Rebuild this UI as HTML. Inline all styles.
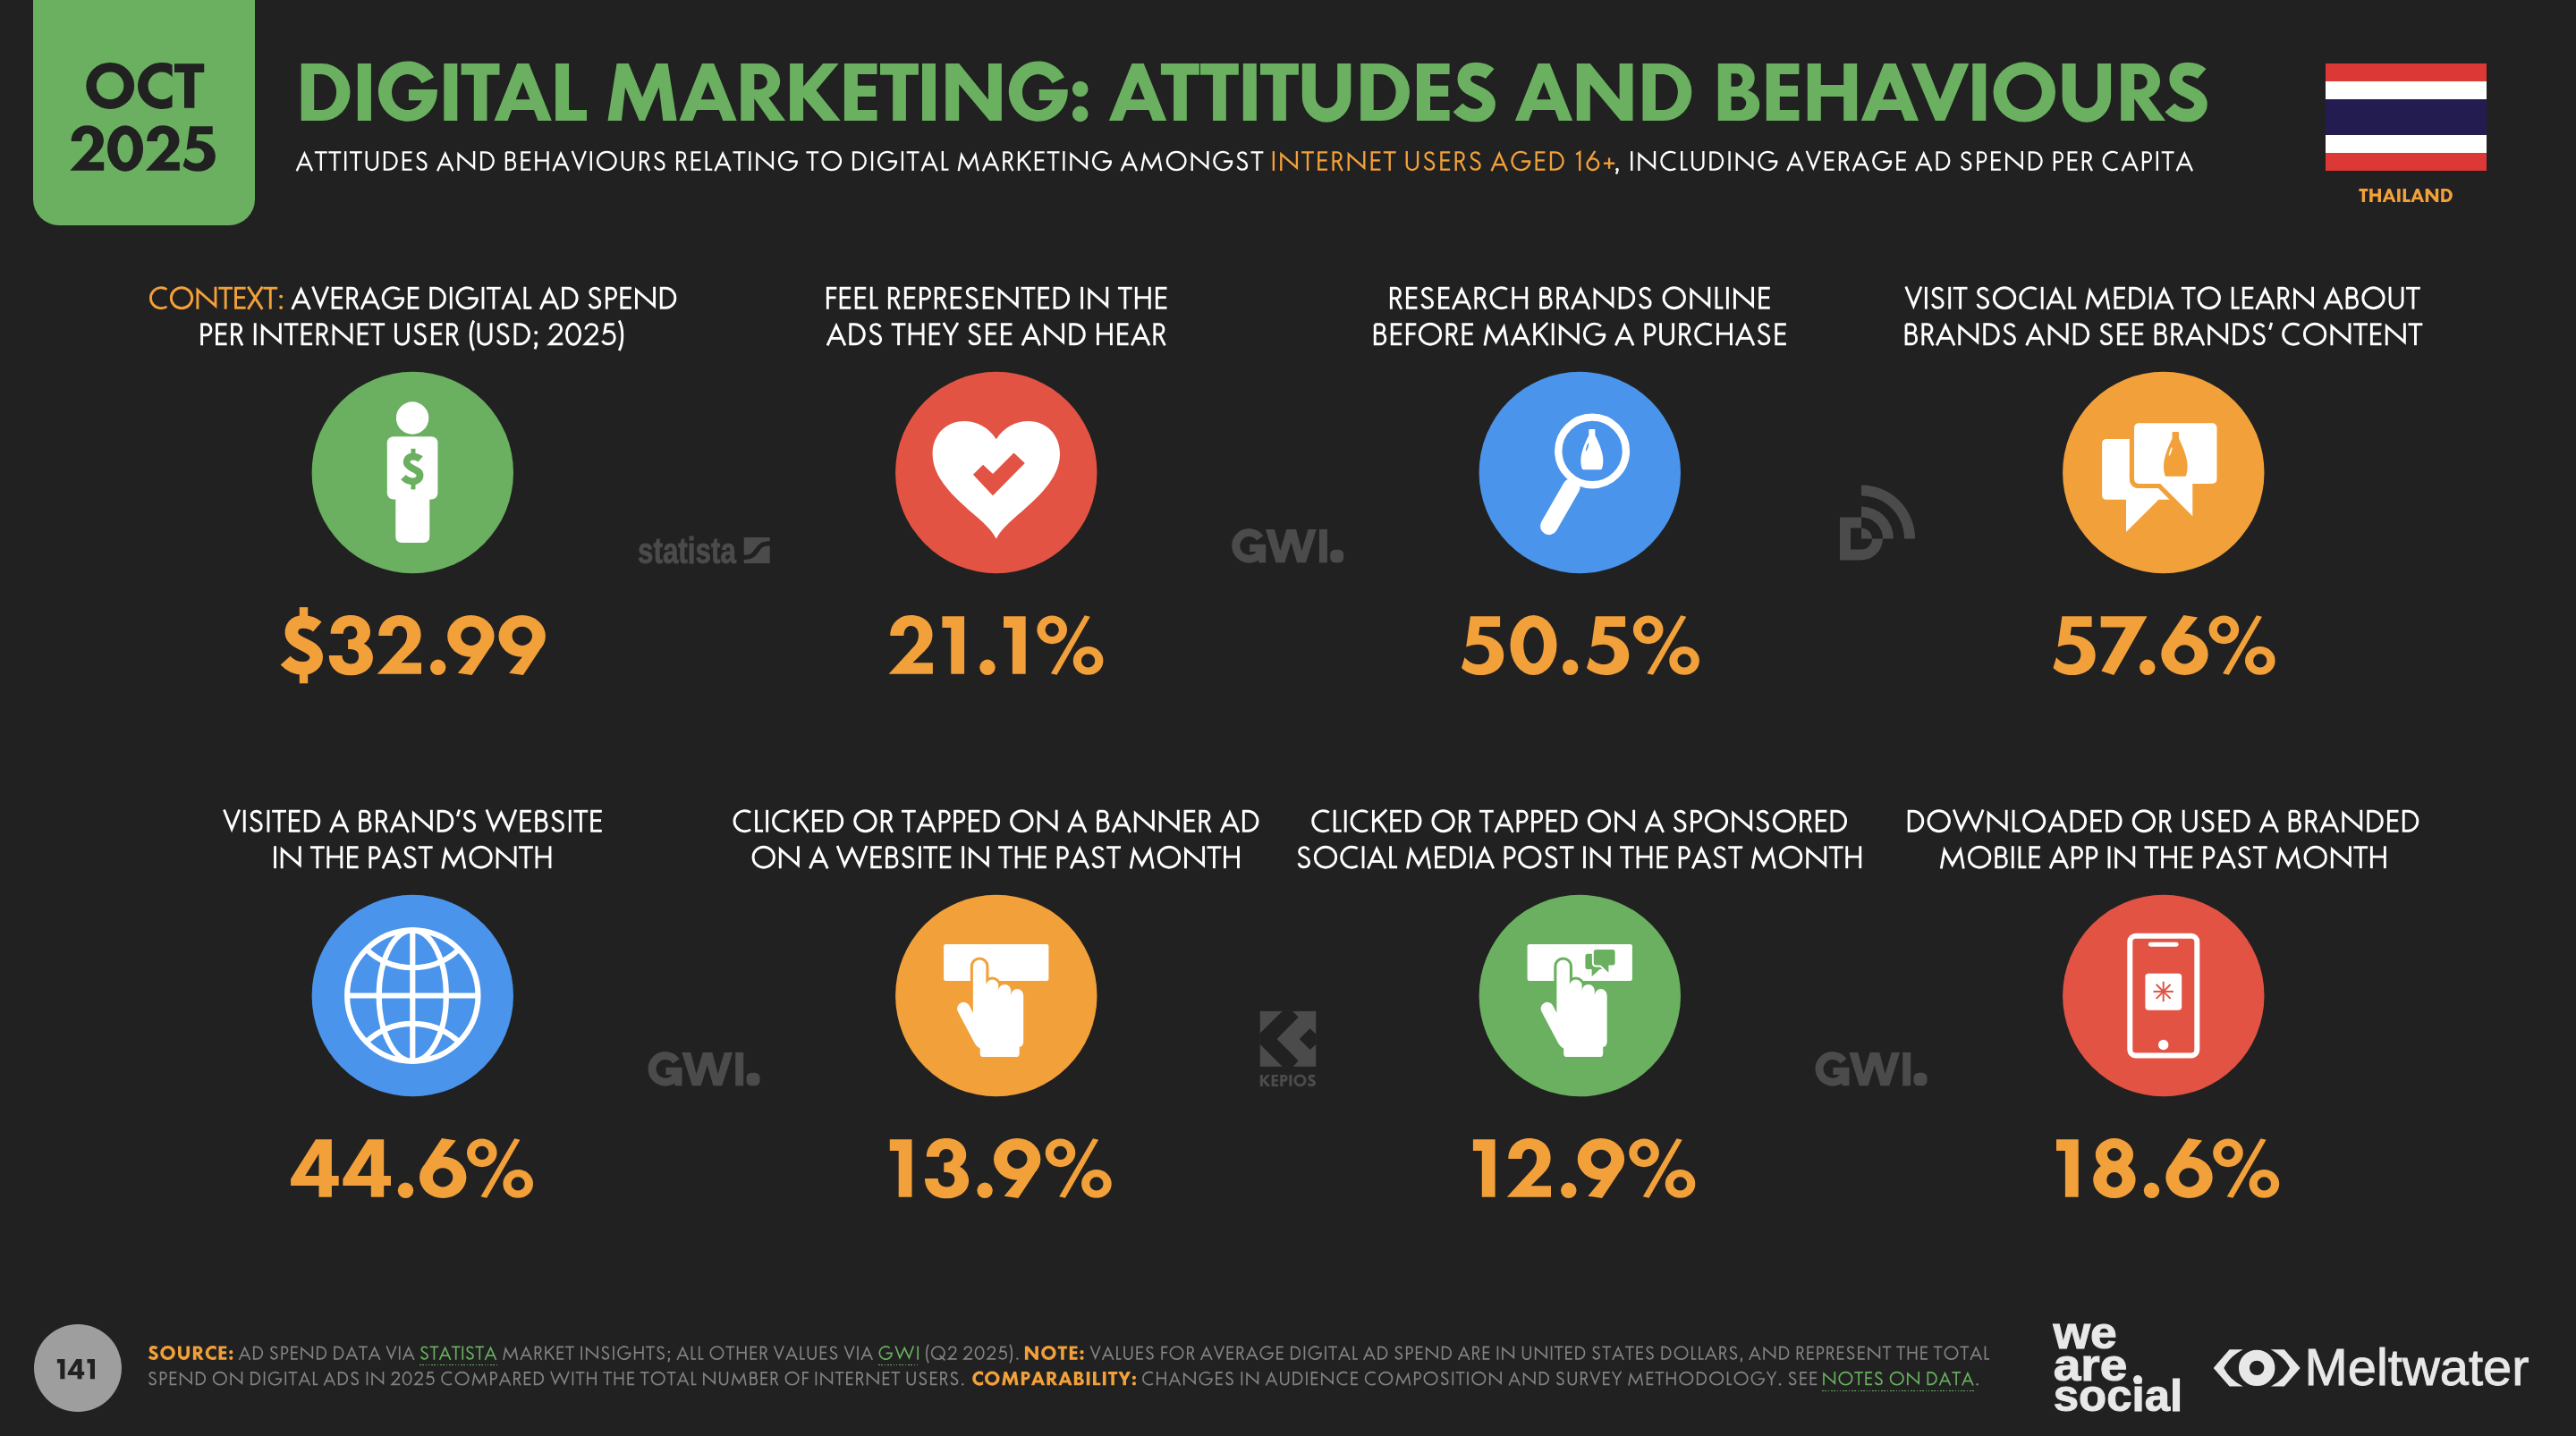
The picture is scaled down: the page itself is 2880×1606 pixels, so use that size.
<!DOCTYPE html><html><head><meta charset="utf-8"><title>Digital Marketing: Attitudes and Behaviours</title><style>
html,body{margin:0;padding:0;background:#212121;overflow:hidden;width:2880px;height:1606px;font-family:"Liberation Sans",sans-serif;}
body{width:2880px;height:1606px;position:relative;overflow:hidden;font-family:"Liberation Sans",sans-serif;}
.t{position:absolute;white-space:nowrap;line-height:1;transform-origin:50% 50%;}
.abs{position:absolute;}
svg{position:absolute;overflow:visible;}

</style></head><body>
<div class="abs" style="left:37px;top:0;width:248px;height:251.5px;background:#6ab060;border-radius:0 0 29px 29px"></div>
<div class="abs" style="left:2600px;top:71px;width:180px;height:119.5px;background:#dc3835"><div class="abs" style="left:0;top:20px;width:180px;height:79.5px;background:#fff"></div><div class="abs" style="left:0;top:40px;width:180px;height:39.5px;background:#221c50"></div></div>
<div class="abs" style="left:37.5px;top:1480.7px;width:98.3px;height:98.3px;border-radius:50%;background:#9e9e9e"></div>
<svg style="left:348px;top:415px" width="227" height="227" viewBox="-113.300 -113.500 227 227"><circle r="112.7" fill="#6ab060"/><circle cx="-0.2" cy="-61" r="18.2" fill="#ffffff"/><rect x="-28.5" y="-40.2" width="56.6" height="70.2" rx="7" fill="#ffffff"/><path d="M-19,25 H19 V71.6 q0,7 -7,7 H-12 q-7,0 -7,-7 Z" fill="#ffffff"/><g transform="translate(-12.4,13.2) scale(0.535)"><path d="M39.7,-52.8 C35.5,-56.5 30,-58.2 23.5,-58.2 C14,-58.2 10.8,-52 10.8,-46.5 C10.8,-40.5 15,-37.5 23.5,-33.3 C33,-28.6 38.6,-25.5 38.6,-19 C38.6,-11.5 32,-6.3 23.5,-6.3 C15,-6.3 8.5,-10 4,-15" fill="none" stroke="#6ab060" stroke-width="14.6"/><rect x="19.7" y="-74.6" width="9.4" height="14" fill="#6ab060"/><rect x="19.7" y="-4" width="9.4" height="14.6" fill="#6ab060"/></g></svg>
<svg style="left:1000px;top:415px" width="227" height="227" viewBox="-113.800 -113.500 227 227"><circle r="112.7" fill="#e25344"/><path d="M0,-37.3 C-9,-51 -22,-57.4 -36,-57.4 C-56,-57.4 -71.2,-42 -71.2,-21 C-71.2,6 -48,27 -20,51 C-10,60 -4,66.5 0,74 C4,66.5 10,60 20,51 C48,27 71.2,6 71.2,-21 C71.2,-42 56,-57.4 36,-57.4 C22,-57.4 9,-51 0,-37.3 Z" fill="#ffffff"/><path d="M-25.9,2.2 L-14.7,-8.7 L-3.8,1.4 L19.7,-22.1 L32,-10.5 L-3.8,25.7 Z" fill="#e25344"/></svg>
<svg style="left:1653px;top:415px" width="227" height="227" viewBox="-113.300 -113.500 227 227"><circle r="112.7" fill="#4a94eb"/><circle cx="13.8" cy="-24.1" r="37.8" fill="none" stroke="#ffffff" stroke-width="8.4"/><line x1="-9.38" y1="16.21" x2="-34.5" y2="59.9" stroke="#ffffff" stroke-width="19.5" stroke-linecap="round"/><path d="M10.05,-47.40 q0,-1 1,-1 h5.00 q1,0 1,1 V-41.80 C18.55,-38.18 26.05,-24.90 26.05,-13.60 C26.05,-9.08 25.40,-6.82 24.80,-4.70 q-0.3,1.5 -2,1.5 H4.30 q-1.7,0 -2,-1.5 C1.70,-6.82 1.05,-9.08 1.05,-13.60 C1.05,-24.90 8.55,-38.18 10.05,-41.80 Z" fill="#ffffff"/><ellipse cx="8.30" cy="-28.51" rx="0.88" ry="4.52" transform="rotate(18 8.30 -28.51)" fill="#4a94eb"/></svg>
<svg style="left:2305px;top:415px" width="227" height="227" viewBox="-113.800 -113.500 227 227"><circle r="112.7" fill="#f2a03a"/><path d="M-63.7,-37.4 H10 V30.3 H-5.4 L-41.8,66.6 V30.3 H-63.7 q-5,0 -5,-5 V-32.4 q0,-5 5,-5 Z" fill="#ffffff"/><path d="M-27.2,-55.3 H54.1 q5.6,0 5.6,5.6 V6.8 q0,5.6 -5.6,5.6 H32.5 V48.8 L-3.6,12.4 H-27.2 q-5.6,0 -5.6,-5.6 V-49.7 q0,-5.6 5.6,-5.6 Z" fill="#ffffff" stroke="#f2a03a" stroke-width="10.4" stroke-linejoin="round" paint-order="stroke"/><path d="M9.78,-44.50 q0,-1 1,-1 h5.45 q1,0 1,1 V-38.23 C18.72,-34.25 26.80,-19.60 26.80,-7.15 C26.80,-2.17 26.07,0.32 25.47,2.80 q-0.3,1.5 -2,1.5 H3.53 q-1.7,0 -2,-1.5 C0.93,0.32 0.20,-2.17 0.20,-7.15 C0.20,-19.60 8.28,-34.25 9.78,-38.23 Z" fill="#f2a03a"/><ellipse cx="7.91" cy="-23.59" rx="0.93" ry="4.98" transform="rotate(18 7.91 -23.59)" fill="#ffffff"/></svg>
<svg style="left:348px;top:1000px" width="227" height="227" viewBox="-113.300 -113.550 227 227"><circle r="112.7" fill="#4a94eb"/><g fill="none" stroke="#ffffff" stroke-width="6.1"><circle r="73.2"/><line x1="0" y1="-73.2" x2="0" y2="73.2"/><line x1="-73.2" y1="0" x2="73.2" y2="0"/><ellipse rx="37.6" ry="73.2"/><path d="M-52,-52 A75.7 75.7 0 0 0 52,-52"/><path d="M-52,52 A75.7 75.7 0 0 1 52,52"/></g></svg>
<svg style="left:1000px;top:1000px" width="227" height="227" viewBox="-113.800 -113.550 227 227"><circle r="112.7" fill="#f2a03a"/><rect x="-58.7" y="-57.6" width="117.3" height="41.1" rx="2.4" fill="#ffffff"/><path d="M-25.9,-32.8 A7.25,7.25 0 0 1 -11.4,-32.8 V-11.1 A6.9,6.9 0 0 1 2.4,-11.1 V-5.5 A7.05,7.05 0 0 1 16.5,-5.5 V-0.5 A6.95,6.95 0 0 1 30.4,-0.5 V51.3 C30.4,55 28.5,57.4 25.9,57.4 V64.6 q0,3.9 -3.9,3.9 H-14.2 q-3.9,0 -3.9,-3.9 V59 C-21,57.5 -23,55.5 -24.5,52.5 L-42.9,17.8 A7.2,7.2 0 0 1 -30.1,11.2 L-25.9,19.3 Z" fill="#ffffff" stroke="#f2a03a" stroke-width="6.2" stroke-linejoin="round" paint-order="stroke"/></svg>
<svg style="left:1653px;top:1000px" width="227" height="227" viewBox="-113.300 -113.550 227 227"><circle r="112.7" fill="#6ab060"/><rect x="-58.7" y="-57.6" width="117.3" height="41.1" rx="2.4" fill="#ffffff"/><path d="M8.9,-46.9 H24.6 V-29.6 H22.2 L13.3,-21.2 V-29.6 H8.9 q-2.8,0 -2.8,-2.8 V-44.1 q0,-2.8 2.8,-2.8 Z" fill="#6ab060"/><path d="M18.3,-51.6 H36.5 q2.8,0 2.8,2.8 V-36.8 q0,2.8 -2.8,2.8 H32.1 V-25.9 L23.3,-34 H18.3 q-2.8,0 -2.8,-2.8 V-48.8 q0,-2.8 2.8,-2.8 Z" fill="#6ab060" stroke="#ffffff" stroke-width="3.8" stroke-linejoin="round" paint-order="stroke"/><path d="M-25.9,-32.8 A7.25,7.25 0 0 1 -11.4,-32.8 V-11.1 A6.9,6.9 0 0 1 2.4,-11.1 V-5.5 A7.05,7.05 0 0 1 16.5,-5.5 V-0.5 A6.95,6.95 0 0 1 30.4,-0.5 V51.3 C30.4,55 28.5,57.4 25.9,57.4 V64.6 q0,3.9 -3.9,3.9 H-14.2 q-3.9,0 -3.9,-3.9 V59 C-21,57.5 -23,55.5 -24.5,52.5 L-42.9,17.8 A7.2,7.2 0 0 1 -30.1,11.2 L-25.9,19.3 Z" fill="#ffffff" stroke="#6ab060" stroke-width="6.2" stroke-linejoin="round" paint-order="stroke"/></svg>
<svg style="left:2305px;top:1000px" width="227" height="227" viewBox="-113.800 -113.550 227 227"><circle r="112.7" fill="#e25344"/><rect x="-37.5" y="-66.8" width="75" height="133.7" rx="6.5" fill="none" stroke="#ffffff" stroke-width="6"/><line x1="-14.5" y1="-57.3" x2="14.4" y2="-57.3" stroke="#ffffff" stroke-width="4.8" stroke-linecap="round"/><circle cx="-0.1" cy="55" r="5.7" fill="#ffffff"/><rect x="-20.4" y="-24.7" width="40.8" height="40.8" rx="3.7" fill="#ffffff"/><g stroke="#e25344" stroke-width="2"><line x1="0" y1="-11.2" x2="0" y2="11.2" transform="translate(-0.1,-4.6) rotate(0)"/><line x1="0" y1="-11.2" x2="0" y2="11.2" transform="translate(-0.1,-4.6) rotate(45)"/><line x1="0" y1="-11.2" x2="0" y2="11.2" transform="translate(-0.1,-4.6) rotate(90)"/><line x1="0" y1="-11.2" x2="0" y2="11.2" transform="translate(-0.1,-4.6) rotate(135)"/></g></svg>
<div id="txt" style="position:absolute;left:0;top:0;width:2880px;height:1606px;overflow:hidden;will-change:transform">
<svg style="left:309px;top:671px" width="338" height="100" viewBox="309 671 338 100"><g transform="translate(315.1,753.7)"><path d="M39.7,-52.8 C35.5,-56.5 30,-58.2 23.5,-58.2 C14,-58.2 10.8,-52 10.8,-46.5 C10.8,-40.5 15,-37.5 23.5,-33.3 C33,-28.6 38.6,-25.5 38.6,-19 C38.6,-11.5 32,-6.3 23.5,-6.3 C15,-6.3 8.5,-10 4,-15" fill="none" stroke="#f2a03a" stroke-width="14.6"/><rect x="19.7" y="-74.6" width="9.4" height="14" fill="#f2a03a"/><rect x="19.7" y="-4" width="9.4" height="14.6" fill="#f2a03a"/></g><g transform="translate(367.6,753.7)"><path d="M2.1,-44.9 C2.1,-57 11,-65.6 24,-65.6 C37,-65.6 46.4,-58 46.4,-47 C46.4,-41 43.5,-36.6 39.2,-34 C45,-31 49.3,-25.5 49.3,-18.5 C49.3,-6.5 39,1.5 24.5,1.5 C10,1.5 0.2,-7 0.2,-20.8 H14.9 C14.9,-15 19,-11.3 24.6,-11.3 C30,-11.3 33.5,-14.8 33.5,-19.8 C33.5,-25.3 30,-27.8 21.5,-27.8 V-38.4 C28.5,-38.4 31.8,-41 31.8,-46 C31.8,-50.6 28.6,-53.8 24.1,-53.8 C19.5,-53.8 16.2,-50.2 16.2,-44.9 Z" fill="#f2a03a"/></g><g transform="translate(421.7,753.7)"><path d="M1.7,-42.7 C1.7,-56 11.5,-65.6 25,-65.6 C39,-65.6 48.9,-56.5 48.9,-44 C48.9,-36.5 45.5,-31 40.5,-26 L26.8,-12.4 H49.3 V0 H0 L28.5,-31 C31.8,-34.8 33.4,-38.5 33.4,-43.5 C33.4,-49.5 30,-53.7 25,-53.7 C20,-53.7 16.9,-49.5 16.9,-42.7 Z" fill="#f2a03a"/></g><g transform="translate(481.0,753.7)"><path d="M0.00,-7.40 A8.7,8.7 0 1 1 17.40,-7.40 A8.7,8.7 0 1 1 0.00,-7.40 Z " fill="#f2a03a"/></g><g transform="translate(500.2,753.7)"><path d="M0.00,-22.00 A26.2,23.3 0 1 1 52.40,-22.00 A26.2,23.3 0 1 1 0.00,-22.00 Z M14.90,-21.90 A11.2,10.6 0 1 0 37.30,-21.90 A11.2,10.6 0 1 0 14.90,-21.90 Z M25,-65.6 L40.8,-63.3 L24.5,-43.5 L14,-30 L3.9,-33.6 Z" fill="#f2a03a" transform="rotate(180 26.2 -32.15)"/></g><g transform="translate(557.5,753.7)"><path d="M0.00,-22.00 A26.2,23.3 0 1 1 52.40,-22.00 A26.2,23.3 0 1 1 0.00,-22.00 Z M14.90,-21.90 A11.2,10.6 0 1 0 37.30,-21.90 A11.2,10.6 0 1 0 14.90,-21.90 Z M25,-65.6 L40.8,-63.3 L24.5,-43.5 L14,-30 L3.9,-33.6 Z" fill="#f2a03a" transform="rotate(180 26.2 -32.15)"/></g></svg><svg style="left:987px;top:671px" width="262" height="100" viewBox="987 671 262 100"><g transform="translate(993.6,753.7)"><path d="M1.7,-42.7 C1.7,-56 11.5,-65.6 25,-65.6 C39,-65.6 48.9,-56.5 48.9,-44 C48.9,-36.5 45.5,-31 40.5,-26 L26.8,-12.4 H49.3 V0 H0 L28.5,-31 C31.8,-34.8 33.4,-38.5 33.4,-43.5 C33.4,-49.5 30,-53.7 25,-53.7 C20,-53.7 16.9,-49.5 16.9,-42.7 Z" fill="#f2a03a"/></g><g transform="translate(1053.4,753.7)"><path d="M0,-64.5 H24.7 V0 H9.9 V-51.7 H0 Z" fill="#f2a03a"/></g><g transform="translate(1095.3,753.7)"><path d="M0.00,-7.40 A8.7,8.7 0 1 1 17.40,-7.40 A8.7,8.7 0 1 1 0.00,-7.40 Z " fill="#f2a03a"/></g><g transform="translate(1122.0,753.7)"><path d="M0,-64.5 H24.7 V0 H9.9 V-51.7 H0 Z" fill="#f2a03a"/></g><g transform="translate(1159.4,753.7)"><path d="M0.00,-49.40 A16.8,15.9 0 1 1 33.60,-49.40 A16.8,15.9 0 1 1 0.00,-49.40 Z M9.15,-49.40 A7.65,7.6 0 1 0 24.45,-49.40 A7.65,7.6 0 1 0 9.15,-49.40 Z M40.40,-14.80 A16.8,15.9 0 1 1 74.00,-14.80 A16.8,15.9 0 1 1 40.40,-14.80 Z M49.55,-14.80 A7.65,7.6 0 1 0 64.85,-14.80 A7.65,7.6 0 1 0 49.55,-14.80 Z M53.3,-65.4 L59.4,-63.9 L22.2,1 L15.5,-0.4 Z" fill="#f2a03a"/></g></svg><svg style="left:1628px;top:671px" width="287" height="100" viewBox="1628 671 287 100"><g transform="translate(1634.0,753.7)"><path d="M9.9,-64.5 H43.1 V-52.8 H20.4 L19.2,-43.5 C36,-43.5 47.2,-34 47.2,-21 C47.2,-7 36,1.3 21,1.3 C12,1.3 5,-2 0,-6.8 L3.5,-18.5 C8,-13.5 13,-10.6 19,-10.6 C26,-10.6 30.9,-15 30.9,-22 C30.9,-29 26,-33 19,-33 C14,-33 9,-32 5.2,-30.1 Z" fill="#f2a03a"/></g><g transform="translate(1688.5,753.7)"><path d="M0.00,-32.20 A26,33.5 0 1 1 52.00,-32.20 A26,33.5 0 1 1 0.00,-32.20 Z M14.75,-32.10 A11.35,20.4 0 1 0 37.45,-32.10 A11.35,20.4 0 1 0 14.75,-32.10 Z " fill="#f2a03a"/></g><g transform="translate(1747.0,753.7)"><path d="M0.00,-7.40 A8.7,8.7 0 1 1 17.40,-7.40 A8.7,8.7 0 1 1 0.00,-7.40 Z " fill="#f2a03a"/></g><g transform="translate(1774.0,753.7)"><path d="M9.9,-64.5 H43.1 V-52.8 H20.4 L19.2,-43.5 C36,-43.5 47.2,-34 47.2,-21 C47.2,-7 36,1.3 21,1.3 C12,1.3 5,-2 0,-6.8 L3.5,-18.5 C8,-13.5 13,-10.6 19,-10.6 C26,-10.6 30.9,-15 30.9,-22 C30.9,-29 26,-33 19,-33 C14,-33 9,-32 5.2,-30.1 Z" fill="#f2a03a"/></g><g transform="translate(1825.9,753.7)"><path d="M0.00,-49.40 A16.8,15.9 0 1 1 33.60,-49.40 A16.8,15.9 0 1 1 0.00,-49.40 Z M9.15,-49.40 A7.65,7.6 0 1 0 24.45,-49.40 A7.65,7.6 0 1 0 9.15,-49.40 Z M40.40,-14.80 A16.8,15.9 0 1 1 74.00,-14.80 A16.8,15.9 0 1 1 40.40,-14.80 Z M49.55,-14.80 A7.65,7.6 0 1 0 64.85,-14.80 A7.65,7.6 0 1 0 49.55,-14.80 Z M53.3,-65.4 L59.4,-63.9 L22.2,1 L15.5,-0.4 Z" fill="#f2a03a"/></g></svg><svg style="left:2289px;top:671px" width="270" height="100" viewBox="2289 671 270 100"><g transform="translate(2295.5,753.7)"><path d="M9.9,-64.5 H43.1 V-52.8 H20.4 L19.2,-43.5 C36,-43.5 47.2,-34 47.2,-21 C47.2,-7 36,1.3 21,1.3 C12,1.3 5,-2 0,-6.8 L3.5,-18.5 C8,-13.5 13,-10.6 19,-10.6 C26,-10.6 30.9,-15 30.9,-22 C30.9,-29 26,-33 19,-33 C14,-33 9,-32 5.2,-30.1 Z" fill="#f2a03a"/></g><g transform="translate(2348.7,753.7)"><path d="M0,-64.5 H51.8 L14.6,1.3 L0.6,-3.3 L27.9,-52.3 H0 Z" fill="#f2a03a"/></g><g transform="translate(2392.1,753.7)"><path d="M0.00,-7.40 A8.7,8.7 0 1 1 17.40,-7.40 A8.7,8.7 0 1 1 0.00,-7.40 Z " fill="#f2a03a"/></g><g transform="translate(2416.3,753.7)"><path d="M0.00,-22.00 A26.2,23.3 0 1 1 52.40,-22.00 A26.2,23.3 0 1 1 0.00,-22.00 Z M14.90,-21.90 A11.2,10.6 0 1 0 37.30,-21.90 A11.2,10.6 0 1 0 14.90,-21.90 Z M25,-65.6 L40.8,-63.3 L24.5,-43.5 L14,-30 L3.9,-33.6 Z" fill="#f2a03a"/></g><g transform="translate(2469.6,753.7)"><path d="M0.00,-49.40 A16.8,15.9 0 1 1 33.60,-49.40 A16.8,15.9 0 1 1 0.00,-49.40 Z M9.15,-49.40 A7.65,7.6 0 1 0 24.45,-49.40 A7.65,7.6 0 1 0 9.15,-49.40 Z M40.40,-14.80 A16.8,15.9 0 1 1 74.00,-14.80 A16.8,15.9 0 1 1 40.40,-14.80 Z M49.55,-14.80 A7.65,7.6 0 1 0 64.85,-14.80 A7.65,7.6 0 1 0 49.55,-14.80 Z M53.3,-65.4 L59.4,-63.9 L22.2,1 L15.5,-0.4 Z" fill="#f2a03a"/></g></svg><svg style="left:319px;top:1256px" width="293" height="100" viewBox="319 1256 293 100"><g transform="translate(325.1,1338.7)"><path d="M27.9,-64.5 H45.8 V-23.7 H53.6 V-12.7 H45.8 V0 H31.4 V-12.7 H0 V-20.2 Z M31.4,-48.2 V-23.7 H16.1 Z" fill="#f2a03a" fill-rule="evenodd"/></g><g transform="translate(383.4,1338.7)"><path d="M27.9,-64.5 H45.8 V-23.7 H53.6 V-12.7 H45.8 V0 H31.4 V-12.7 H0 V-20.2 Z M31.4,-48.2 V-23.7 H16.1 Z" fill="#f2a03a" fill-rule="evenodd"/></g><g transform="translate(444.8,1338.7)"><path d="M0.00,-7.40 A8.7,8.7 0 1 1 17.40,-7.40 A8.7,8.7 0 1 1 0.00,-7.40 Z " fill="#f2a03a"/></g><g transform="translate(469.0,1338.7)"><path d="M0.00,-22.00 A26.2,23.3 0 1 1 52.40,-22.00 A26.2,23.3 0 1 1 0.00,-22.00 Z M14.90,-21.90 A11.2,10.6 0 1 0 37.30,-21.90 A11.2,10.6 0 1 0 14.90,-21.90 Z M25,-65.6 L40.8,-63.3 L24.5,-43.5 L14,-30 L3.9,-33.6 Z" fill="#f2a03a"/></g><g transform="translate(522.0,1338.7)"><path d="M0.00,-49.40 A16.8,15.9 0 1 1 33.60,-49.40 A16.8,15.9 0 1 1 0.00,-49.40 Z M9.15,-49.40 A7.65,7.6 0 1 0 24.45,-49.40 A7.65,7.6 0 1 0 9.15,-49.40 Z M40.40,-14.80 A16.8,15.9 0 1 1 74.00,-14.80 A16.8,15.9 0 1 1 40.40,-14.80 Z M49.55,-14.80 A7.65,7.6 0 1 0 64.85,-14.80 A7.65,7.6 0 1 0 49.55,-14.80 Z M53.3,-65.4 L59.4,-63.9 L22.2,1 L15.5,-0.4 Z" fill="#f2a03a"/></g></svg><svg style="left:988px;top:1256px" width="270" height="100" viewBox="988 1256 270 100"><g transform="translate(994.8,1338.7)"><path d="M0,-64.5 H24.7 V0 H9.9 V-51.7 H0 Z" fill="#f2a03a"/></g><g transform="translate(1033.8,1338.7)"><path d="M2.1,-44.9 C2.1,-57 11,-65.6 24,-65.6 C37,-65.6 46.4,-58 46.4,-47 C46.4,-41 43.5,-36.6 39.2,-34 C45,-31 49.3,-25.5 49.3,-18.5 C49.3,-6.5 39,1.5 24.5,1.5 C10,1.5 0.2,-7 0.2,-20.8 H14.9 C14.9,-15 19,-11.3 24.6,-11.3 C30,-11.3 33.5,-14.8 33.5,-19.8 C33.5,-25.3 30,-27.8 21.5,-27.8 V-38.4 C28.5,-38.4 31.8,-41 31.8,-46 C31.8,-50.6 28.6,-53.8 24.1,-53.8 C19.5,-53.8 16.2,-50.2 16.2,-44.9 Z" fill="#f2a03a"/></g><g transform="translate(1092.4,1338.7)"><path d="M0.00,-7.40 A8.7,8.7 0 1 1 17.40,-7.40 A8.7,8.7 0 1 1 0.00,-7.40 Z " fill="#f2a03a"/></g><g transform="translate(1111.0,1338.7)"><path d="M0.00,-22.00 A26.2,23.3 0 1 1 52.40,-22.00 A26.2,23.3 0 1 1 0.00,-22.00 Z M14.90,-21.90 A11.2,10.6 0 1 0 37.30,-21.90 A11.2,10.6 0 1 0 14.90,-21.90 Z M25,-65.6 L40.8,-63.3 L24.5,-43.5 L14,-30 L3.9,-33.6 Z" fill="#f2a03a" transform="rotate(180 26.2 -32.15)"/></g><g transform="translate(1168.7,1338.7)"><path d="M0.00,-49.40 A16.8,15.9 0 1 1 33.60,-49.40 A16.8,15.9 0 1 1 0.00,-49.40 Z M9.15,-49.40 A7.65,7.6 0 1 0 24.45,-49.40 A7.65,7.6 0 1 0 9.15,-49.40 Z M40.40,-14.80 A16.8,15.9 0 1 1 74.00,-14.80 A16.8,15.9 0 1 1 40.40,-14.80 Z M49.55,-14.80 A7.65,7.6 0 1 0 64.85,-14.80 A7.65,7.6 0 1 0 49.55,-14.80 Z M53.3,-65.4 L59.4,-63.9 L22.2,1 L15.5,-0.4 Z" fill="#f2a03a"/></g></svg><svg style="left:1640px;top:1256px" width="271" height="100" viewBox="1640 1256 271 100"><g transform="translate(1646.9,1338.7)"><path d="M0,-64.5 H24.7 V0 H9.9 V-51.7 H0 Z" fill="#f2a03a"/></g><g transform="translate(1684.7,1338.7)"><path d="M1.7,-42.7 C1.7,-56 11.5,-65.6 25,-65.6 C39,-65.6 48.9,-56.5 48.9,-44 C48.9,-36.5 45.5,-31 40.5,-26 L26.8,-12.4 H49.3 V0 H0 L28.5,-31 C31.8,-34.8 33.4,-38.5 33.4,-43.5 C33.4,-49.5 30,-53.7 25,-53.7 C20,-53.7 16.9,-49.5 16.9,-42.7 Z" fill="#f2a03a"/></g><g transform="translate(1745.1,1338.7)"><path d="M0.00,-7.40 A8.7,8.7 0 1 1 17.40,-7.40 A8.7,8.7 0 1 1 0.00,-7.40 Z " fill="#f2a03a"/></g><g transform="translate(1763.7,1338.7)"><path d="M0.00,-22.00 A26.2,23.3 0 1 1 52.40,-22.00 A26.2,23.3 0 1 1 0.00,-22.00 Z M14.90,-21.90 A11.2,10.6 0 1 0 37.30,-21.90 A11.2,10.6 0 1 0 14.90,-21.90 Z M25,-65.6 L40.8,-63.3 L24.5,-43.5 L14,-30 L3.9,-33.6 Z" fill="#f2a03a" transform="rotate(180 26.2 -32.15)"/></g><g transform="translate(1821.3,1338.7)"><path d="M0.00,-49.40 A16.8,15.9 0 1 1 33.60,-49.40 A16.8,15.9 0 1 1 0.00,-49.40 Z M9.15,-49.40 A7.65,7.6 0 1 0 24.45,-49.40 A7.65,7.6 0 1 0 9.15,-49.40 Z M40.40,-14.80 A16.8,15.9 0 1 1 74.00,-14.80 A16.8,15.9 0 1 1 40.40,-14.80 Z M49.55,-14.80 A7.65,7.6 0 1 0 64.85,-14.80 A7.65,7.6 0 1 0 49.55,-14.80 Z M53.3,-65.4 L59.4,-63.9 L22.2,1 L15.5,-0.4 Z" fill="#f2a03a"/></g></svg><svg style="left:2293px;top:1256px" width="271" height="100" viewBox="2293 1256 271 100"><g transform="translate(2299.0,1338.7)"><path d="M0,-64.5 H24.7 V0 H9.9 V-51.7 H0 Z" fill="#f2a03a"/></g><g transform="translate(2340.3,1338.7)"><path d="M2.50,-47.40 A21.1,18.2 0 1 1 44.70,-47.40 A21.1,18.2 0 1 1 2.50,-47.40 Z M-0.10,-19.10 A23.7,20.4 0 1 1 47.30,-19.10 A23.7,20.4 0 1 1 -0.10,-19.10 Z M15.70,-47.40 A7.9,7.3 0 1 0 31.50,-47.40 A7.9,7.3 0 1 0 15.70,-47.40 Z M14.90,-19.10 A8.7,8.5 0 1 0 32.30,-19.10 A8.7,8.5 0 1 0 14.90,-19.10 Z " fill="#f2a03a"/></g><g transform="translate(2396.8,1338.7)"><path d="M0.00,-7.40 A8.7,8.7 0 1 1 17.40,-7.40 A8.7,8.7 0 1 1 0.00,-7.40 Z " fill="#f2a03a"/></g><g transform="translate(2421.3,1338.7)"><path d="M0.00,-22.00 A26.2,23.3 0 1 1 52.40,-22.00 A26.2,23.3 0 1 1 0.00,-22.00 Z M14.90,-21.90 A11.2,10.6 0 1 0 37.30,-21.90 A11.2,10.6 0 1 0 14.90,-21.90 Z M25,-65.6 L40.8,-63.3 L24.5,-43.5 L14,-30 L3.9,-33.6 Z" fill="#f2a03a"/></g><g transform="translate(2474.2,1338.7)"><path d="M0.00,-49.40 A16.8,15.9 0 1 1 33.60,-49.40 A16.8,15.9 0 1 1 0.00,-49.40 Z M9.15,-49.40 A7.65,7.6 0 1 0 24.45,-49.40 A7.65,7.6 0 1 0 9.15,-49.40 Z M40.40,-14.80 A16.8,15.9 0 1 1 74.00,-14.80 A16.8,15.9 0 1 1 40.40,-14.80 Z M49.55,-14.80 A7.65,7.6 0 1 0 64.85,-14.80 A7.65,7.6 0 1 0 49.55,-14.80 Z M53.3,-65.4 L59.4,-63.9 L22.2,1 L15.5,-0.4 Z" fill="#f2a03a"/></g></svg>
<svg style="left:330px;top:60px" width="2150" height="85" viewBox="330 60 2150 85"><g transform="translate(336.7,135.07)"><path d="M0,-64 H23.3 A31.5,32 0 0 1 23.3,0 H0 Z M14.5,-52.1 H22.6 A16.8,20.05 0 0 1 22.6,-12 H14.5 Z" fill="#6ab060" fill-rule="evenodd"/></g><g transform="translate(399.9,135.07)"><path d="M0,-64 H15 V0 H0 Z" fill="#6ab060"/></g><g transform="translate(422.9,135.07)"><path d="M62.2,-48.6 A33,33.7 0 1 0 65.9,-35.1 H34 V-22.8 H48.9 A17.9,20 0 1 1 48.65,-41.7 Z" fill="#6ab060"/></g><g transform="translate(496.3,135.07)"><path d="M0,-64 H15 V0 H0 Z" fill="#6ab060"/></g><g transform="translate(515.6,135.07)"><path d="M0,-64 H42.9 V-51.4 H28.9 V0 H14.2 V-51.4 H0 Z" fill="#6ab060"/></g><g transform="translate(552.5,135.07)"><path d="M0,0 L25.6,-64 H38.8 L64.3,0 H48.9 L44.5,-12 H19.6 L15.1,0 Z M32.1,-43.5 L24.2,-23.8 H40 Z" fill="#6ab060" fill-rule="evenodd"/></g><g transform="translate(621.1,135.07)"><path d="M0,-64 H15 V-12 H34.9 V0 H0 Z" fill="#6ab060"/></g><g transform="translate(679.5,135.07)"><path d="M0,0 L10.1,-64 H23.3 L38.7,-26.3 L54.1,-64 H67.1 L77.1,0 H61.8 L57.3,-37.5 L41.5,0 H35.2 L19.6,-37.5 L15.4,0 Z" fill="#6ab060"/></g><g transform="translate(759.4,135.07)"><path d="M0,0 L25.6,-64 H38.8 L64.3,0 H48.9 L44.5,-12 H19.6 L15.1,0 Z M32.1,-43.5 L24.2,-23.8 H40 Z" fill="#6ab060" fill-rule="evenodd"/></g><g transform="translate(828.3,135.07)"><path d="M0,-64 H23.3 A21,19.9 0 0 1 31,-25.8 L49.9,0 H32.4 L15,-24.9 V0 H0 Z M15,-52.1 H20.5 A9.1,8.5 0 0 1 20.5,-35.1 H15 Z" fill="#6ab060" fill-rule="evenodd"/></g><g transform="translate(883.1,135.07)"><path d="M0,-64 H15 V-38.2 L37,-64 H54.5 L29.3,-34 L56.6,0 H37.7 L15,-26.3 V0 H0 Z" fill="#6ab060"/></g><g transform="translate(943.9,135.07)"><path d="M0,-64 H36.6 V-52.1 H15 V-39.3 H35.2 V-27 H15 V-12 H36.6 V0 H0 Z" fill="#6ab060"/></g><g transform="translate(984.0,135.07)"><path d="M0,-64 H42.9 V-51.4 H28.9 V0 H14.2 V-51.4 H0 Z" fill="#6ab060"/></g><g transform="translate(1031.0,135.07)"><path d="M0,-64 H15 V0 H0 Z" fill="#6ab060"/></g><g transform="translate(1057.2,135.07)"><path d="M0,-64 H15 L47.8,-23.5 V-64 H62.7 V0 H49.2 L15,-40.9 V0 H0 Z" fill="#6ab060"/></g><g transform="translate(1127.8,135.07)"><path d="M62.2,-48.6 A33,33.7 0 1 0 65.9,-35.1 H34 V-22.8 H48.9 A17.9,20 0 1 1 48.65,-41.7 Z" fill="#6ab060"/></g><g transform="translate(1198.9,135.07)"><path d="M0.00,-35.60 A8.8,8.8 0 1 1 17.60,-35.60 A8.8,8.8 0 1 1 0.00,-35.60 Z M0.00,-7.70 A8.8,8.8 0 1 1 17.60,-7.70 A8.8,8.8 0 1 1 0.00,-7.70 Z " fill="#6ab060"/></g><g transform="translate(1239.9,135.07)"><path d="M0,0 L25.6,-64 H38.8 L64.3,0 H48.9 L44.5,-12 H19.6 L15.1,0 Z M32.1,-43.5 L24.2,-23.8 H40 Z" fill="#6ab060" fill-rule="evenodd"/></g><g transform="translate(1297.9,135.07)"><path d="M0,-64 H42.9 V-51.4 H28.9 V0 H14.2 V-51.4 H0 Z" fill="#6ab060"/></g><g transform="translate(1341.9,135.07)"><path d="M0,-64 H42.9 V-51.4 H28.9 V0 H14.2 V-51.4 H0 Z" fill="#6ab060"/></g><g transform="translate(1389.8,135.07)"><path d="M0,-64 H15 V0 H0 Z" fill="#6ab060"/></g><g transform="translate(1409.0,135.07)"><path d="M0,-64 H42.9 V-51.4 H28.9 V0 H14.2 V-51.4 H0 Z" fill="#6ab060"/></g><g transform="translate(1455.8,135.07)"><path d="M0,-64 H15.1 V-25.6 A12.2,12.6 0 0 0 39.4,-25.6 V-64 H54.5 V-27 A27.25,28.7 0 0 1 0,-27 Z" fill="#6ab060"/></g><g transform="translate(1521.2,135.07)"><path d="M0,-64 H23.3 A31.5,32 0 0 1 23.3,0 H0 Z M14.5,-52.1 H22.6 A16.8,20.05 0 0 1 22.6,-12 H14.5 Z" fill="#6ab060" fill-rule="evenodd"/></g><g transform="translate(1584.0,135.07)"><path d="M0,-64 H36.6 V-52.1 H15 V-39.3 H35.2 V-27 H15 V-12 H36.6 V0 H0 Z" fill="#6ab060"/></g><g transform="translate(1626.0,135.07)"><path d="M39.7,-52.8 C35.5,-56.5 30,-58.2 23.5,-58.2 C14,-58.2 10.8,-52 10.8,-46.5 C10.8,-40.5 15,-37.5 23.5,-33.3 C33,-28.6 38.6,-25.5 38.6,-19 C38.6,-11.5 32,-6.3 23.5,-6.3 C15,-6.3 8.5,-10 4,-15" fill="none" stroke="#6ab060" stroke-width="14.6" transform="translate(0,0.3)"/></g><g transform="translate(1693.9,135.07)"><path d="M0,0 L25.6,-64 H38.8 L64.3,0 H48.9 L44.5,-12 H19.6 L15.1,0 Z M32.1,-43.5 L24.2,-23.8 H40 Z" fill="#6ab060" fill-rule="evenodd"/></g><g transform="translate(1762.8,135.07)"><path d="M0,-64 H15 L47.8,-23.5 V-64 H62.7 V0 H49.2 L15,-40.9 V0 H0 Z" fill="#6ab060"/></g><g transform="translate(1836.5,135.07)"><path d="M0,-64 H23.3 A31.5,32 0 0 1 23.3,0 H0 Z M14.5,-52.1 H22.6 A16.8,20.05 0 0 1 22.6,-12 H14.5 Z" fill="#6ab060" fill-rule="evenodd"/></g><g transform="translate(1920.8,135.07)"><path d="M0,-64 H24 C34,-64 40.9,-57 40.9,-48 C40.9,-41.5 38,-36.5 33,-34 C41,-31.5 46.5,-26 46.5,-18 C46.5,-7 38,0 26,0 H0 Z M14.7,-52.7 H20.5 A6.9,7.25 0 0 1 20.5,-38.2 H14.7 Z M14.7,-27.1 H23.9 A7.6,7.6 0 0 1 23.9,-11.9 H14.7 Z" fill="#6ab060" fill-rule="evenodd"/></g><g transform="translate(1974.8,135.07)"><path d="M0,-64 H36.6 V-52.1 H15 V-39.3 H35.2 V-27 H15 V-12 H36.6 V0 H0 Z" fill="#6ab060"/></g><g transform="translate(2020.8,135.07)"><path d="M0,-64 H15 V-40.1 H40.4 V-64 H55.4 V0 H40.4 V-27.1 H15 V0 H0 Z" fill="#6ab060"/></g><g transform="translate(2080.8,135.07)"><path d="M0,0 L25.6,-64 H38.8 L64.3,0 H48.9 L44.5,-12 H19.6 L15.1,0 Z M32.1,-43.5 L24.2,-23.8 H40 Z" fill="#6ab060" fill-rule="evenodd"/></g><g transform="translate(2136.9,135.07)"><path d="M0,-64 H16 L32.1,-23.8 L48.1,-64 H64.4 L37.5,0 H26.9 Z" fill="#6ab060"/></g><g transform="translate(2205.3,135.07)"><path d="M0,-64 H15 V0 H0 Z" fill="#6ab060"/></g><g transform="translate(2228.5,135.07)"><path d="M0.00,-32.10 A34.75,33.6 0 1 1 69.50,-32.10 A34.75,33.6 0 1 1 0.00,-32.10 Z M14.90,-32.20 A19.7,19.8 0 1 0 54.30,-32.20 A19.7,19.8 0 1 0 14.90,-32.20 Z " fill="#6ab060"/></g><g transform="translate(2305.6,135.07)"><path d="M0,-64 H15.1 V-25.6 A12.2,12.6 0 0 0 39.4,-25.6 V-64 H54.5 V-27 A27.25,28.7 0 0 1 0,-27 Z" fill="#6ab060"/></g><g transform="translate(2371.2,135.07)"><path d="M0,-64 H23.3 A21,19.9 0 0 1 31,-25.8 L49.9,0 H32.4 L15,-24.9 V0 H0 Z M15,-52.1 H20.5 A9.1,8.5 0 0 1 20.5,-35.1 H15 Z" fill="#6ab060" fill-rule="evenodd"/></g><g transform="translate(2421.9,135.07)"><path d="M39.7,-52.8 C35.5,-56.5 30,-58.2 23.5,-58.2 C14,-58.2 10.8,-52 10.8,-46.5 C10.8,-40.5 15,-37.5 23.5,-33.3 C33,-28.6 38.6,-25.5 38.6,-19 C38.6,-11.5 32,-6.3 23.5,-6.3 C15,-6.3 8.5,-10 4,-15" fill="none" stroke="#6ab060" stroke-width="14.6" transform="translate(0,0.3)"/></g></svg>
<svg style="left:60px;top:60px" width="200" height="140" viewBox="60 60 200 140"><g transform="translate(96.3,120.8) scale(0.775)"><path d="M0.00,-32.10 A34.75,33.6 0 1 1 69.50,-32.10 A34.75,33.6 0 1 1 0.00,-32.10 Z M14.90,-32.20 A19.7,19.8 0 1 0 54.30,-32.20 A19.7,19.8 0 1 0 14.90,-32.20 Z " fill="#212121"/></g><g transform="translate(154.0,120.8) scale(0.775)"><path d="M49.8,-62.4 A34.75,33.6 0 1 0 49.8,-1.8 V-19.6 A19.7,19.8 0 1 1 49.8,-44.8 Z" fill="#212121"/></g><g transform="translate(195.0,120.8) scale(0.775)"><path d="M0,-64 H42.9 V-51.4 H28.9 V0 H14.2 V-51.4 H0 Z" fill="#212121"/></g><g transform="translate(78.3,190.8) scale(0.769)"><path d="M1.7,-42.7 C1.7,-56 11.5,-65.6 25,-65.6 C39,-65.6 48.9,-56.5 48.9,-44 C48.9,-36.5 45.5,-31 40.5,-26 L26.8,-12.4 H49.3 V0 H0 L28.5,-31 C31.8,-34.8 33.4,-38.5 33.4,-43.5 C33.4,-49.5 30,-53.7 25,-53.7 C20,-53.7 16.9,-49.5 16.9,-42.7 Z" fill="#212121"/></g><g transform="translate(120.05,190.8) scale(0.769)"><path d="M0.00,-32.20 A26,33.5 0 1 1 52.00,-32.20 A26,33.5 0 1 1 0.00,-32.20 Z M14.75,-32.10 A11.35,20.4 0 1 0 37.45,-32.10 A11.35,20.4 0 1 0 14.75,-32.10 Z " fill="#212121"/></g><g transform="translate(162.9,190.8) scale(0.769)"><path d="M1.7,-42.7 C1.7,-56 11.5,-65.6 25,-65.6 C39,-65.6 48.9,-56.5 48.9,-44 C48.9,-36.5 45.5,-31 40.5,-26 L26.8,-12.4 H49.3 V0 H0 L28.5,-31 C31.8,-34.8 33.4,-38.5 33.4,-43.5 C33.4,-49.5 30,-53.7 25,-53.7 C20,-53.7 16.9,-49.5 16.9,-42.7 Z" fill="#212121"/></g><g transform="translate(204.6,190.8) scale(0.769)"><path d="M9.9,-64.5 H43.1 V-52.8 H20.4 L19.2,-43.5 C36,-43.5 47.2,-34 47.2,-21 C47.2,-7 36,1.3 21,1.3 C12,1.3 5,-2 0,-6.8 L3.5,-18.5 C8,-13.5 13,-10.6 19,-10.6 C26,-10.6 30.9,-15 30.9,-22 C30.9,-29 26,-33 19,-33 C14,-33 9,-32 5.2,-30.1 Z" fill="#212121"/></g></svg>
<svg style="left:0;top:0" width="2880" height="1606" viewBox="0 0 2880 1606"><defs><g id="k2"><path d="M1.45,0 V-24.9"/></g><g id="k9"><path d="M1.45,0 V-24.9"/><path d="M16.45,0 V-24.9"/><path d="M1.45,-13 H16.45"/></g><g id="k5"><path d="M12.6,-23.45 H1.45 V-1.45 H12.6"/><path d="M1.45,-13.1 H11.8"/></g><g id="k31"><path d="M11.5,-23.45 H1.45 V0"/><path d="M1.45,-12.9 H10.6"/></g><g id="k13"><path d="M1.45,-24.9 V-1.45 H9"/></g><g id="k1"><path d="M0,-23.45 H15.9"/><path d="M7.95,-23.45 V0"/></g><g id="k0"><path d="M1.2,0.3 L11.10,-21.9 L21.00,0.3"/><path d="M4.76,-7.7 H17.44"/></g><g id="k10"><path d="M1.2,-25.2 L9.8,-3.4 L18.4,-25.2"/></g><g id="k34"><path d="M1.2,-25.2 L9.3,-3.4 L17.65,-21.4 L26,-3.4 L34.1,-25.2"/></g><g id="k15"><path d="M1.2,0.3 L4.9,-20.2 L13.7,-3.9 L22.5,-20.2 L26.2,0.3"/></g><g id="k7"><path d="M1.45,0 V-21.3 L21.55,-3.6 V-24.9"/></g><g id="k16"><path d="M1.45,0 V-24.9"/><path d="M16.2,-25.099999999999998 L2.05,-11.2"/><path d="M6.2,-14.6 L16.4,0.2"/></g><g id="k23"><path d="M1.3,-25.099999999999998 L17.4,0.2"/><path d="M17.4,-25.099999999999998 L1.3,0.2"/></g><g id="k32"><path d="M1.2,-25.099999999999998 L9.25,-10.8 L17.3,-25.099999999999998"/><path d="M9.25,-11.5 V0"/></g><g id="k37"><path d="M0.5,-23.45 H15 L1,-1.45 H16"/></g><g id="k11"><path d="M1.45,-12.45 A11.70,11.50 0 1 1 24.85,-12.45 A11.70,11.50 0 1 1 1.45,-12.45 Z"/></g><g id="k35"><path d="M1.45,-12.45 A11.70,11.50 0 1 1 24.85,-12.45 A11.70,11.50 0 1 1 1.45,-12.45 Z"/><path d="M16,-8 L25.5,1.2"/></g><g id="k21"><path d="M19.52,-22.09 A11.70,11.50 0 1 0 19.52,-2.81"/></g><g id="k14"><path d="M20.01,-21.26 A11.30,11.50 0 1 0 24.04,-12.05 M25.0,-11.9 H13.6"/></g><g id="k4"><path d="M1.45,-1.45 H6.6 A10.45,11.00 0 0 0 6.6,-23.45 H1.45 Z"/></g><g id="k8"><path d="M1.45,-23.45 H7.4 A4.5,4.97 0 0 1 7.4,-13.5 H1.45"/><path d="M1.45,-13.5 H7.9 A5.35,6.03 0 0 1 7.9,-1.45 H1.45 V-23.45"/></g><g id="k22"><path d="M1.45,0 V-23.45 H6.4 A5.35,6.07 0 0 1 6.4,-11.3 H1.45"/></g><g id="k12"><path d="M1.45,0 V-23.45 H6.6 A4.95,5.67 0 0 1 6.6,-12.1 H1.45"/><path d="M6.9,-12.1 L13,0.2"/></g><g id="k6"><path d="M12.7,-20.3 C11.6,-22.5 9.7,-23.5 7.5,-23.5 C4.3,-23.5 2.2,-21.4 2.2,-18.7 C2.2,-15.8 4.4,-14.4 7.4,-13.1 C10.7,-11.7 13.15,-10.1 13.15,-6.7 C13.15,-3.4 10.7,-1.45 7.3,-1.45 C4.2,-1.45 2.2,-3.1 1.4,-5.9"/></g><g id="k3"><path d="M1.45,-24.9 V-8 A7.05,7.05 0 0 0 15.55,-8 V-24.9"/></g><g id="k38"><path d="M6.55,-24.9 V-5.5 A3.3,4.5 0 0 1 0.6,-2.6"/></g><g id="k28"><path d="M1.45,-12.45 A7.55,11.5 0 1 1 16.55,-12.45 A7.55,11.5 0 1 1 1.45,-12.45 Z"/></g><g id="k17"><path d="M0.5,-20.8 L5.05,-23.75 V0"/></g><g id="k27"><path d="M2.2,-17.6 C2.2,-21.2 5,-23.5 8.3,-23.5 C11.9,-23.5 14.6,-21.2 14.6,-17.9 C14.6,-15.6 13.4,-13.8 11.3,-11.6 L1.6,-1.45 H16.3"/></g><g id="k29"><path d="M14.8,-23.45 H5.6 L4,-14.3 C5.3,-15.2 6.9,-15.7 8.5,-15.7 C12.6,-15.7 15.4,-12.7 15.4,-8.6 C15.4,-4.5 12.4,-1.45 8.2,-1.45 C5.2,-1.45 2.9,-2.8 1.5,-5"/></g><g id="k18"><path d="M11.5,-25.099999999999998 L3.4,-12.6"/><path d="M1.45,-8.2 A7.3,7.2 0 1 1 16.05,-8.2 A7.3,7.2 0 1 1 1.45,-8.2 Z"/></g><g id="k19"><path d="M0,-9.4 H14"/><path d="M7,-16.4 V-2.4"/></g><g id="k24"><circle cx="1.95" cy="-14.1" r="1.95" fill="currentColor" stroke="none"/><circle cx="1.95" cy="-1.75" r="1.95" fill="currentColor" stroke="none"/></g><g id="k26"><path d="M2.6,-1 L0.8,4.2"/><circle cx="1.95" cy="-14.1" r="1.95" fill="currentColor" stroke="none"/><circle cx="1.95" cy="-1.75" r="1.95" fill="currentColor" stroke="none"/></g><g id="k36"><circle cx="1.95" cy="-1.75" r="1.95" fill="currentColor" stroke="none"/></g><g id="k20"><path d="M2.8,-1 L1,4.2"/><circle cx="2.05" cy="-1.75" r="1.95" fill="currentColor" stroke="none"/></g><g id="k33"><path d="M3.0,-25.2 L0.9,-17.5"/></g><g id="k25"><path d="M5.4,-27.7 C0.6,-19 0.6,-3 5.4,5.8"/></g><g id="k30"><path d="M0.8,-27.7 C5.6,-19 5.6,-3 0.8,5.8"/></g></defs><g transform="translate(330.70,190.90) scale(0.8755)" fill="none" color="#ffffff" stroke="#ffffff" stroke-width="2.68" stroke-miterlimit="10"><use href="#k0" x="0.00"/><use href="#k1" x="24.15"/><use href="#k1" x="41.90"/><use href="#k2" x="61.95"/><use href="#k1" x="68.80"/><use href="#k3" x="88.75"/><use href="#k4" x="111.90"/><use href="#k5" x="135.85"/><use href="#k6" x="153.40"/><use href="#k0" x="179.75"/><use href="#k7" x="206.20"/><use href="#k4" x="235.45"/><use href="#k8" x="267.20"/><use href="#k5" x="287.25"/><use href="#k9" x="305.41"/><use href="#k0" x="327.46"/><use href="#k10" x="351.81"/><use href="#k2" x="375.56"/><use href="#k11" x="383.91"/><use href="#k3" x="415.56"/><use href="#k12" x="438.71"/><use href="#k6" x="457.16"/><use href="#k12" x="485.61"/><use href="#k5" x="504.66"/><use href="#k13" x="522.81"/><use href="#k0" x="534.16"/><use href="#k1" x="558.31"/><use href="#k2" x="578.36"/><use href="#k7" x="587.51"/><use href="#k14" x="615.76"/><use href="#k1" x="651.81"/><use href="#k11" x="671.06"/><use href="#k4" x="710.61"/><use href="#k2" x="734.56"/><use href="#k14" x="742.71"/><use href="#k2" x="773.26"/><use href="#k1" x="780.11"/><use href="#k0" x="798.06"/><use href="#k13" x="824.51"/><use href="#k15" x="845.26"/><use href="#k0" x="876.31"/><use href="#k12" x="902.76"/><use href="#k16" x="921.82"/><use href="#k5" x="943.47"/><use href="#k1" x="959.32"/><use href="#k2" x="979.37"/><use href="#k7" x="988.52"/><use href="#k14" x="1016.77"/><use href="#k0" x="1053.02"/><use href="#k15" x="1078.97"/><use href="#k11" x="1111.32"/><use href="#k7" x="1143.07"/><use href="#k14" x="1171.32"/><use href="#k6" x="1201.27"/><use href="#k1" x="1219.62"/></g><g transform="translate(1422.60,190.90) scale(0.8755)" fill="none" color="#f2a03a" stroke="#f2a03a" stroke-width="2.68" stroke-miterlimit="10"><use href="#k2" x="0.00"/><use href="#k7" x="9.63"/><use href="#k1" x="37.06"/><use href="#k5" x="57.60"/><use href="#k12" x="76.23"/><use href="#k7" x="95.76"/><use href="#k5" x="125.49"/><use href="#k1" x="141.82"/><use href="#k3" x="170.06"/><use href="#k6" x="193.09"/><use href="#k5" x="214.22"/><use href="#k12" x="232.85"/><use href="#k6" x="251.78"/><use href="#k0" x="278.61"/><use href="#k14" x="304.55"/><use href="#k5" x="335.58"/><use href="#k4" x="354.21"/><use href="#k17" x="387.44"/><use href="#k18" x="400.47"/><use href="#k19" x="423.01"/></g><g transform="translate(1806.20,190.90) scale(0.8755)" fill="none" color="#ffffff" stroke="#ffffff" stroke-width="2.68" stroke-miterlimit="10"><use href="#k20" x="0.00"/></g><g transform="translate(1823.00,190.90) scale(0.8755)" fill="none" color="#ffffff" stroke="#ffffff" stroke-width="2.68" stroke-miterlimit="10"><use href="#k2" x="0.00"/><use href="#k7" x="9.32"/><use href="#k21" x="37.85"/><use href="#k13" x="63.87"/><use href="#k3" x="77.40"/><use href="#k4" x="100.72"/><use href="#k2" x="124.84"/><use href="#k7" x="134.17"/><use href="#k14" x="162.59"/><use href="#k0" x="199.02"/><use href="#k10" x="223.54"/><use href="#k5" x="247.46"/><use href="#k12" x="265.79"/><use href="#k0" x="282.91"/><use href="#k14" x="308.54"/><use href="#k5" x="339.26"/><use href="#k0" x="363.28"/><use href="#k4" x="389.91"/><use href="#k6" x="421.23"/><use href="#k22" x="442.06"/><use href="#k5" x="460.18"/><use href="#k7" x="478.50"/><use href="#k4" x="507.93"/><use href="#k22" x="539.85"/><use href="#k5" x="557.98"/><use href="#k12" x="576.30"/><use href="#k21" x="602.42"/><use href="#k0" x="626.35"/><use href="#k22" x="652.97"/><use href="#k2" x="671.10"/><use href="#k1" x="678.12"/><use href="#k0" x="696.24"/></g><g transform="translate(167.00,345.70) scale(1.0000)" fill="none" color="#f2a03a" stroke="#f2a03a" stroke-width="2.90" stroke-miterlimit="10"><use href="#k21" x="0.00"/><use href="#k11" x="22.87"/><use href="#k7" x="52.44"/><use href="#k1" x="77.21"/><use href="#k5" x="95.09"/><use href="#k23" x="108.96"/><use href="#k1" x="127.33"/><use href="#k24" x="145.20"/></g><g transform="translate(325.50,345.70) scale(1.0000)" fill="none" color="#ffffff" stroke="#ffffff" stroke-width="2.90" stroke-miterlimit="10"><use href="#k0" x="0.00"/><use href="#k10" x="22.87"/><use href="#k5" x="45.15"/><use href="#k12" x="61.82"/><use href="#k0" x="77.30"/><use href="#k14" x="101.28"/><use href="#k5" x="130.35"/><use href="#k4" x="154.83"/><use href="#k2" x="177.30"/><use href="#k14" x="183.98"/><use href="#k2" x="213.05"/><use href="#k1" x="218.43"/><use href="#k0" x="234.90"/><use href="#k13" x="259.88"/><use href="#k0" x="277.55"/><use href="#k4" x="302.53"/><use href="#k6" x="332.20"/><use href="#k22" x="351.38"/><use href="#k5" x="367.85"/><use href="#k7" x="384.52"/><use href="#k4" x="412.30"/></g><g transform="translate(224.20,386.15) scale(1.0000)" fill="none" color="#ffffff" stroke="#ffffff" stroke-width="2.90" stroke-miterlimit="10"><use href="#k22" x="0.00"/><use href="#k5" x="16.83"/><use href="#k12" x="33.85"/><use href="#k2" x="59.58"/><use href="#k7" x="67.60"/><use href="#k1" x="93.43"/><use href="#k5" x="112.35"/><use href="#k12" x="129.38"/><use href="#k7" x="147.30"/><use href="#k5" x="175.43"/><use href="#k1" x="190.15"/><use href="#k3" x="216.78"/><use href="#k6" x="238.20"/><use href="#k5" x="257.73"/><use href="#k12" x="274.75"/><use href="#k25" x="300.18"/><use href="#k3" x="309.30"/><use href="#k6" x="330.73"/><use href="#k4" x="350.25"/><use href="#k26" x="373.08"/><use href="#k27" x="388.80"/><use href="#k28" x="407.83"/><use href="#k27" x="428.65"/><use href="#k29" x="447.68"/><use href="#k30" x="467.20"/></g><g transform="translate(923.90,345.70) scale(1.0000)" fill="none" color="#ffffff" stroke="#ffffff" stroke-width="2.90" stroke-miterlimit="10"><use href="#k31" x="0.00"/><use href="#k5" x="14.75"/><use href="#k5" x="31.79"/><use href="#k13" x="48.84"/><use href="#k12" x="68.99"/><use href="#k5" x="86.94"/><use href="#k22" x="103.98"/><use href="#k12" x="120.83"/><use href="#k5" x="138.78"/><use href="#k6" x="155.23"/><use href="#k5" x="174.77"/><use href="#k7" x="191.82"/><use href="#k1" x="217.67"/><use href="#k5" x="236.62"/><use href="#k4" x="253.66"/><use href="#k2" x="284.31"/><use href="#k7" x="292.36"/><use href="#k1" x="326.01"/><use href="#k9" x="344.95"/><use href="#k5" x="368.00"/></g><g transform="translate(923.90,386.15) scale(1.0000)" fill="none" color="#ffffff" stroke="#ffffff" stroke-width="2.90" stroke-miterlimit="10"><use href="#k0" x="0.00"/><use href="#k4" x="25.38"/><use href="#k6" x="47.66"/><use href="#k1" x="72.74"/><use href="#k9" x="91.73"/><use href="#k5" x="114.81"/><use href="#k32" x="129.69"/><use href="#k6" x="158.37"/><use href="#k5" x="177.95"/><use href="#k5" x="195.03"/><use href="#k0" x="217.81"/><use href="#k7" x="243.19"/><use href="#k4" x="271.38"/><use href="#k9" x="302.06"/><use href="#k5" x="325.14"/><use href="#k0" x="340.12"/><use href="#k12" x="365.50"/></g><g transform="translate(1553.90,345.70) scale(1.0000)" fill="none" color="#ffffff" stroke="#ffffff" stroke-width="2.90" stroke-miterlimit="10"><use href="#k12" x="0.00"/><use href="#k5" x="18.00"/><use href="#k6" x="34.50"/><use href="#k5" x="54.10"/><use href="#k0" x="69.10"/><use href="#k12" x="94.50"/><use href="#k21" x="111.60"/><use href="#k9" x="136.40"/><use href="#k8" x="167.30"/><use href="#k12" x="186.30"/><use href="#k0" x="202.20"/><use href="#k7" x="227.60"/><use href="#k4" x="255.80"/><use href="#k6" x="278.10"/><use href="#k11" x="304.70"/><use href="#k7" x="335.40"/><use href="#k13" x="363.60"/><use href="#k2" x="376.00"/><use href="#k7" x="384.10"/><use href="#k5" x="412.30"/></g><g transform="translate(1535.80,386.15) scale(1.0000)" fill="none" color="#ffffff" stroke="#ffffff" stroke-width="2.90" stroke-miterlimit="10"><use href="#k8" x="0.00"/><use href="#k5" x="18.97"/><use href="#k31" x="36.04"/><use href="#k11" x="50.01"/><use href="#k12" x="80.68"/><use href="#k5" x="98.65"/><use href="#k15" x="123.02"/><use href="#k0" x="152.99"/><use href="#k16" x="178.36"/><use href="#k2" x="198.93"/><use href="#k7" x="207.00"/><use href="#k14" x="234.17"/><use href="#k0" x="269.34"/><use href="#k22" x="302.51"/><use href="#k3" x="319.28"/><use href="#k12" x="341.35"/><use href="#k21" x="358.42"/><use href="#k9" x="383.19"/><use href="#k0" x="404.16"/><use href="#k6" x="428.93"/><use href="#k5" x="448.50"/></g><g transform="translate(2129.60,345.70) scale(1.0000)" fill="none" color="#ffffff" stroke="#ffffff" stroke-width="2.90" stroke-miterlimit="10"><use href="#k10" x="0.00"/><use href="#k2" x="22.32"/><use href="#k6" x="29.44"/><use href="#k2" x="48.66"/><use href="#k1" x="54.07"/><use href="#k6" x="79.89"/><use href="#k11" x="98.31"/><use href="#k21" x="127.73"/><use href="#k2" x="152.15"/><use href="#k0" x="157.77"/><use href="#k13" x="182.79"/><use href="#k15" x="202.10"/><use href="#k5" x="233.82"/><use href="#k4" x="250.54"/><use href="#k2" x="273.06"/><use href="#k0" x="278.68"/><use href="#k1" x="309.20"/><use href="#k11" x="327.01"/><use href="#k13" x="365.13"/><use href="#k5" x="377.15"/><use href="#k0" x="391.77"/><use href="#k12" x="416.79"/><use href="#k7" x="434.41"/><use href="#k0" x="467.93"/><use href="#k8" x="492.94"/><use href="#k11" x="510.76"/><use href="#k3" x="540.98"/><use href="#k1" x="560.40"/></g><g transform="translate(2129.60,386.15) scale(1.0000)" fill="none" color="#ffffff" stroke="#ffffff" stroke-width="2.90" stroke-miterlimit="10"><use href="#k8" x="0.00"/><use href="#k12" x="18.79"/><use href="#k0" x="34.48"/><use href="#k7" x="59.68"/><use href="#k4" x="87.67"/><use href="#k6" x="109.76"/><use href="#k0" x="134.85"/><use href="#k7" x="160.04"/><use href="#k4" x="188.04"/><use href="#k6" x="217.93"/><use href="#k5" x="237.32"/><use href="#k5" x="254.21"/><use href="#k8" x="278.90"/><use href="#k12" x="297.70"/><use href="#k0" x="313.39"/><use href="#k7" x="338.58"/><use href="#k4" x="366.57"/><use href="#k6" x="388.66"/><use href="#k33" x="407.06"/><use href="#k21" x="421.55"/><use href="#k11" x="445.34"/><use href="#k7" x="475.83"/><use href="#k1" x="501.52"/><use href="#k5" x="520.32"/><use href="#k7" x="537.21"/><use href="#k1" x="562.90"/></g><g transform="translate(249.30,930.70) scale(1.0000)" fill="none" color="#ffffff" stroke="#ffffff" stroke-width="2.90" stroke-miterlimit="10"><use href="#k10" x="0.00"/><use href="#k2" x="22.50"/><use href="#k6" x="29.79"/><use href="#k2" x="49.19"/><use href="#k1" x="54.78"/><use href="#k5" x="73.58"/><use href="#k4" x="90.47"/><use href="#k0" x="118.87"/><use href="#k8" x="151.86"/><use href="#k12" x="170.66"/><use href="#k0" x="186.35"/><use href="#k7" x="211.55"/><use href="#k4" x="239.54"/><use href="#k33" x="261.24"/><use href="#k6" x="268.23"/><use href="#k34" x="293.43"/><use href="#k5" x="332.02"/><use href="#k8" x="348.92"/><use href="#k6" x="367.11"/><use href="#k2" x="386.51"/><use href="#k1" x="392.10"/><use href="#k5" x="410.90"/></g><g transform="translate(306.10,971.15) scale(1.0000)" fill="none" color="#ffffff" stroke="#ffffff" stroke-width="2.90" stroke-miterlimit="10"><use href="#k2" x="0.00"/><use href="#k7" x="7.60"/><use href="#k1" x="40.80"/><use href="#k9" x="59.30"/><use href="#k5" x="81.90"/><use href="#k22" x="106.30"/><use href="#k0" x="120.60"/><use href="#k6" x="144.90"/><use href="#k1" x="161.70"/><use href="#k15" x="187.50"/><use href="#k11" x="218.30"/><use href="#k7" x="248.50"/><use href="#k1" x="273.90"/><use href="#k9" x="292.40"/></g><g transform="translate(819.60,930.70) scale(1.0000)" fill="none" color="#ffffff" stroke="#ffffff" stroke-width="2.90" stroke-miterlimit="10"><use href="#k21" x="0.00"/><use href="#k13" x="24.50"/><use href="#k2" x="36.60"/><use href="#k21" x="43.50"/><use href="#k16" x="68.00"/><use href="#k5" x="88.30"/><use href="#k4" x="105.10"/><use href="#k11" x="134.70"/><use href="#k12" x="165.10"/><use href="#k1" x="188.30"/><use href="#k0" x="204.90"/><use href="#k22" x="230.00"/><use href="#k22" x="246.60"/><use href="#k5" x="263.20"/><use href="#k4" x="280.00"/><use href="#k11" x="309.60"/><use href="#k7" x="340.00"/><use href="#k0" x="373.60"/><use href="#k8" x="406.50"/><use href="#k0" x="423.10"/><use href="#k7" x="448.20"/><use href="#k7" x="476.10"/><use href="#k5" x="504.00"/><use href="#k12" x="520.80"/><use href="#k0" x="544.20"/><use href="#k4" x="569.30"/></g><g transform="translate(840.60,971.15) scale(1.0000)" fill="none" color="#ffffff" stroke="#ffffff" stroke-width="2.90" stroke-miterlimit="10"><use href="#k11" x="0.00"/><use href="#k7" x="30.23"/><use href="#k0" x="63.65"/><use href="#k34" x="94.38"/><use href="#k5" x="132.70"/><use href="#k8" x="149.33"/><use href="#k6" x="167.26"/><use href="#k2" x="186.38"/><use href="#k1" x="191.71"/><use href="#k5" x="210.23"/><use href="#k2" x="234.66"/><use href="#k7" x="242.29"/><use href="#k1" x="275.51"/><use href="#k9" x="294.04"/><use href="#k5" x="316.67"/><use href="#k22" x="341.09"/><use href="#k0" x="355.42"/><use href="#k6" x="379.74"/><use href="#k1" x="396.57"/><use href="#k15" x="422.40"/><use href="#k11" x="453.22"/><use href="#k7" x="483.45"/><use href="#k1" x="508.87"/><use href="#k9" x="527.40"/></g><g transform="translate(1466.30,930.70) scale(1.0000)" fill="none" color="#ffffff" stroke="#ffffff" stroke-width="2.90" stroke-miterlimit="10"><use href="#k21" x="0.00"/><use href="#k13" x="24.43"/><use href="#k2" x="36.45"/><use href="#k21" x="43.28"/><use href="#k16" x="67.71"/><use href="#k5" x="87.93"/><use href="#k4" x="104.66"/><use href="#k11" x="134.19"/><use href="#k12" x="164.52"/><use href="#k1" x="187.64"/><use href="#k0" x="204.17"/><use href="#k22" x="229.20"/><use href="#k22" x="245.72"/><use href="#k5" x="262.25"/><use href="#k4" x="278.98"/><use href="#k11" x="308.50"/><use href="#k7" x="338.83"/><use href="#k0" x="372.36"/><use href="#k6" x="404.58"/><use href="#k22" x="423.81"/><use href="#k11" x="439.54"/><use href="#k7" x="469.87"/><use href="#k6" x="497.09"/><use href="#k11" x="515.52"/><use href="#k12" x="545.85"/><use href="#k5" x="563.47"/><use href="#k4" x="580.20"/></g><g transform="translate(1450.50,971.15) scale(1.0000)" fill="none" color="#ffffff" stroke="#ffffff" stroke-width="2.90" stroke-miterlimit="10"><use href="#k6" x="0.00"/><use href="#k11" x="18.36"/><use href="#k21" x="47.73"/><use href="#k2" x="72.09"/><use href="#k0" x="77.66"/><use href="#k13" x="102.62"/><use href="#k15" x="121.89"/><use href="#k5" x="153.55"/><use href="#k4" x="170.21"/><use href="#k2" x="192.68"/><use href="#k0" x="198.24"/><use href="#k22" x="231.01"/><use href="#k11" x="246.67"/><use href="#k6" x="276.34"/><use href="#k1" x="293.20"/><use href="#k2" x="319.56"/><use href="#k7" x="327.23"/><use href="#k1" x="360.49"/><use href="#k9" x="379.06"/><use href="#k5" x="401.72"/><use href="#k22" x="426.19"/><use href="#k0" x="440.55"/><use href="#k6" x="464.91"/><use href="#k1" x="481.78"/><use href="#k15" x="507.64"/><use href="#k11" x="538.51"/><use href="#k7" x="568.77"/><use href="#k1" x="594.24"/><use href="#k9" x="612.80"/></g><g transform="translate(2132.70,930.70) scale(1.0000)" fill="none" color="#ffffff" stroke="#ffffff" stroke-width="2.90" stroke-miterlimit="10"><use href="#k4" x="0.00"/><use href="#k11" x="21.88"/><use href="#k34" x="50.36"/><use href="#k7" x="88.93"/><use href="#k13" x="116.91"/><use href="#k11" x="128.29"/><use href="#k0" x="156.67"/><use href="#k4" x="181.85"/><use href="#k5" x="204.53"/><use href="#k4" x="221.40"/><use href="#k11" x="251.08"/><use href="#k12" x="281.56"/><use href="#k3" x="307.04"/><use href="#k6" x="328.32"/><use href="#k5" x="347.70"/><use href="#k4" x="364.57"/><use href="#k0" x="392.95"/><use href="#k8" x="425.93"/><use href="#k12" x="444.71"/><use href="#k0" x="460.39"/><use href="#k7" x="485.57"/><use href="#k4" x="513.54"/><use href="#k5" x="536.22"/><use href="#k4" x="553.10"/></g><g transform="translate(2169.10,971.15) scale(1.0000)" fill="none" color="#ffffff" stroke="#ffffff" stroke-width="2.90" stroke-miterlimit="10"><use href="#k15" x="0.00"/><use href="#k11" x="30.87"/><use href="#k8" x="61.15"/><use href="#k2" x="79.72"/><use href="#k13" x="87.39"/><use href="#k5" x="99.36"/><use href="#k0" x="121.74"/><use href="#k22" x="146.71"/><use href="#k22" x="163.18"/><use href="#k2" x="187.45"/><use href="#k7" x="195.13"/><use href="#k1" x="228.40"/><use href="#k9" x="246.97"/><use href="#k5" x="269.65"/><use href="#k22" x="294.12"/><use href="#k0" x="308.49"/><use href="#k6" x="332.86"/><use href="#k1" x="349.74"/><use href="#k15" x="375.61"/><use href="#k11" x="406.48"/><use href="#k7" x="436.75"/><use href="#k1" x="462.23"/><use href="#k9" x="480.80"/></g><g transform="translate(266.80,1520.70) scale(0.6145)" fill="none" color="#838383" stroke="#838383" stroke-width="2.73" stroke-miterlimit="10"><use href="#k0" x="0.00"/><use href="#k4" x="26.13"/><use href="#k6" x="56.96"/><use href="#k22" x="77.29"/><use href="#k5" x="94.92"/><use href="#k7" x="112.75"/><use href="#k4" x="141.68"/><use href="#k4" x="173.11"/><use href="#k0" x="194.64"/><use href="#k1" x="218.46"/><use href="#k0" x="236.09"/><use href="#k10" x="267.92"/><use href="#k2" x="291.35"/><use href="#k0" x="298.08"/></g><g transform="translate(470.00,1520.70) scale(0.6145)" fill="none" color="#6ab060" stroke="#6ab060" stroke-width="2.73" stroke-miterlimit="10"><use href="#k6" x="0.00"/><use href="#k1" x="17.10"/><use href="#k0" x="33.81"/><use href="#k1" x="56.71"/><use href="#k2" x="75.51"/><use href="#k6" x="82.82"/><use href="#k1" x="99.92"/><use href="#k0" x="116.62"/></g><g transform="translate(562.30,1520.70) scale(0.6145)" fill="none" color="#838383" stroke="#838383" stroke-width="2.73" stroke-miterlimit="10"><use href="#k15" x="0.00"/><use href="#k0" x="30.99"/><use href="#k12" x="57.37"/><use href="#k16" x="76.36"/><use href="#k5" x="97.95"/><use href="#k1" x="113.73"/><use href="#k2" x="141.52"/><use href="#k7" x="150.60"/><use href="#k6" x="179.19"/><use href="#k2" x="199.78"/><use href="#k14" x="207.86"/><use href="#k9" x="238.35"/><use href="#k1" x="260.14"/><use href="#k6" x="279.52"/><use href="#k26" x="300.11"/><use href="#k0" x="315.90"/><use href="#k13" x="342.28"/><use href="#k13" x="355.67"/><use href="#k11" x="376.05"/><use href="#k1" x="405.44"/><use href="#k9" x="425.43"/><use href="#k5" x="449.51"/><use href="#k12" x="467.60"/><use href="#k10" x="492.29"/><use href="#k0" x="513.87"/><use href="#k13" x="540.26"/><use href="#k3" x="553.54"/><use href="#k5" x="576.63"/><use href="#k6" x="594.12"/><use href="#k10" x="620.40"/><use href="#k2" x="644.09"/><use href="#k0" x="651.08"/></g><g transform="translate(982.40,1520.70) scale(0.6145)" fill="none" color="#6ab060" stroke="#6ab060" stroke-width="2.73" stroke-miterlimit="10"><use href="#k14" x="0.00"/><use href="#k34" x="29.27"/><use href="#k2" x="69.85"/></g><g transform="translate(1034.70,1520.70) scale(0.6145)" fill="none" color="#838383" stroke="#838383" stroke-width="2.73" stroke-miterlimit="10"><use href="#k25" x="0.00"/><use href="#k35" x="9.79"/><use href="#k27" x="40.67"/><use href="#k27" x="68.96"/><use href="#k28" x="89.35"/><use href="#k27" x="111.53"/><use href="#k29" x="131.92"/><use href="#k30" x="152.81"/><use href="#k36" x="165.19"/></g><g transform="translate(1218.60,1520.70) scale(0.6145)" fill="none" color="#838383" stroke="#838383" stroke-width="2.73" stroke-miterlimit="10"><use href="#k10" x="0.00"/><use href="#k0" x="21.51"/><use href="#k13" x="47.81"/><use href="#k3" x="61.02"/><use href="#k5" x="84.02"/><use href="#k6" x="101.43"/><use href="#k31" x="129.74"/><use href="#k11" x="144.64"/><use href="#k12" x="176.25"/><use href="#k0" x="200.85"/><use href="#k10" x="225.06"/><use href="#k5" x="248.67"/><use href="#k12" x="266.67"/><use href="#k0" x="283.48"/><use href="#k14" x="308.78"/><use href="#k5" x="339.19"/><use href="#k4" x="364.99"/><use href="#k2" x="388.80"/><use href="#k14" x="396.81"/><use href="#k2" x="427.21"/><use href="#k1" x="433.92"/><use href="#k0" x="451.72"/><use href="#k13" x="478.03"/><use href="#k0" x="497.04"/><use href="#k4" x="523.34"/><use href="#k6" x="554.35"/><use href="#k22" x="574.85"/><use href="#k5" x="592.66"/><use href="#k7" x="610.67"/><use href="#k4" x="639.77"/><use href="#k0" x="669.28"/><use href="#k12" x="695.58"/><use href="#k5" x="714.49"/><use href="#k2" x="740.30"/><use href="#k7" x="749.30"/><use href="#k3" x="786.11"/><use href="#k7" x="809.11"/><use href="#k2" x="838.22"/><use href="#k1" x="844.93"/><use href="#k5" x="864.83"/><use href="#k4" x="882.84"/><use href="#k6" x="913.84"/><use href="#k1" x="932.05"/><use href="#k0" x="949.86"/><use href="#k1" x="973.86"/><use href="#k5" x="993.77"/><use href="#k6" x="1011.17"/><use href="#k4" x="1039.48"/><use href="#k11" x="1062.48"/><use href="#k13" x="1094.09"/><use href="#k13" x="1107.40"/><use href="#k0" x="1118.60"/><use href="#k12" x="1144.91"/><use href="#k6" x="1163.21"/><use href="#k20" x="1183.22"/><use href="#k0" x="1198.53"/><use href="#k7" x="1224.83"/><use href="#k4" x="1253.94"/><use href="#k12" x="1285.54"/><use href="#k5" x="1304.45"/><use href="#k22" x="1322.46"/><use href="#k12" x="1340.26"/><use href="#k5" x="1359.17"/><use href="#k6" x="1376.57"/><use href="#k5" x="1397.08"/><use href="#k7" x="1415.09"/><use href="#k1" x="1441.89"/><use href="#k1" x="1467.30"/><use href="#k9" x="1487.20"/><use href="#k5" x="1511.21"/><use href="#k1" x="1534.72"/><use href="#k11" x="1553.82"/><use href="#k1" x="1583.13"/><use href="#k0" x="1600.93"/><use href="#k13" x="1627.24"/></g><g transform="translate(166.00,1549.30) scale(0.6145)" fill="none" color="#838383" stroke="#838383" stroke-width="2.73" stroke-miterlimit="10"><use href="#k6" x="0.00"/><use href="#k22" x="20.61"/><use href="#k5" x="38.52"/><use href="#k7" x="56.64"/><use href="#k4" x="85.85"/><use href="#k11" x="116.76"/><use href="#k7" x="148.47"/><use href="#k4" x="185.48"/><use href="#k2" x="209.39"/><use href="#k14" x="217.51"/><use href="#k2" x="248.02"/><use href="#k1" x="254.83"/><use href="#k0" x="272.74"/><use href="#k13" x="299.15"/><use href="#k0" x="318.27"/><use href="#k4" x="344.68"/><use href="#k6" x="367.99"/><use href="#k2" x="396.40"/><use href="#k7" x="405.51"/><use href="#k27" x="441.43"/><use href="#k28" x="461.54"/><use href="#k27" x="483.45"/><use href="#k29" x="503.56"/><use href="#k21" x="532.37"/><use href="#k11" x="557.38"/><use href="#k15" x="588.60"/><use href="#k22" x="621.71"/><use href="#k0" x="637.52"/><use href="#k12" x="663.93"/><use href="#k5" x="682.94"/><use href="#k4" x="701.06"/><use href="#k34" x="730.77"/><use href="#k2" x="770.58"/><use href="#k1" x="777.39"/><use href="#k9" x="797.40"/><use href="#k1" x="827.01"/><use href="#k9" x="847.03"/><use href="#k5" x="871.14"/><use href="#k1" x="894.75"/><use href="#k11" x="913.96"/><use href="#k1" x="943.37"/><use href="#k0" x="961.29"/><use href="#k13" x="987.70"/><use href="#k7" x="1008.91"/><use href="#k3" x="1038.02"/><use href="#k15" x="1060.63"/><use href="#k8" x="1093.75"/><use href="#k5" x="1113.76"/><use href="#k12" x="1131.87"/><use href="#k11" x="1157.88"/><use href="#k31" x="1189.59"/><use href="#k2" x="1213.20"/><use href="#k7" x="1222.32"/><use href="#k1" x="1249.23"/><use href="#k5" x="1269.24"/><use href="#k12" x="1287.35"/><use href="#k7" x="1306.36"/><use href="#k5" x="1335.58"/><use href="#k1" x="1351.39"/><use href="#k3" x="1379.10"/><use href="#k6" x="1401.61"/><use href="#k5" x="1422.22"/><use href="#k12" x="1440.34"/><use href="#k6" x="1458.75"/><use href="#k36" x="1479.36"/></g><g transform="translate(1277.00,1549.30) scale(0.6145)" fill="none" color="#838383" stroke="#838383" stroke-width="2.73" stroke-miterlimit="10"><use href="#k21" x="0.00"/><use href="#k9" x="25.94"/><use href="#k0" x="48.08"/><use href="#k7" x="74.62"/><use href="#k14" x="102.97"/><use href="#k5" x="133.61"/><use href="#k6" x="151.25"/><use href="#k2" x="179.79"/><use href="#k7" x="189.03"/><use href="#k0" x="224.07"/><use href="#k3" x="250.52"/><use href="#k4" x="273.76"/><use href="#k2" x="297.80"/><use href="#k5" x="307.04"/><use href="#k7" x="325.28"/><use href="#k21" x="353.72"/><use href="#k5" x="379.67"/><use href="#k21" x="404.81"/><use href="#k11" x="429.95"/><use href="#k15" x="461.29"/><use href="#k22" x="494.53"/><use href="#k11" x="511.77"/><use href="#k6" x="543.02"/><use href="#k2" x="563.76"/><use href="#k1" x="570.70"/><use href="#k2" x="590.84"/><use href="#k11" x="599.28"/><use href="#k7" x="631.12"/><use href="#k0" x="666.17"/><use href="#k7" x="692.71"/><use href="#k4" x="722.05"/><use href="#k6" x="753.29"/><use href="#k3" x="773.93"/><use href="#k12" x="797.17"/><use href="#k10" x="814.22"/><use href="#k5" x="838.06"/><use href="#k32" x="854.10"/><use href="#k15" x="884.04"/><use href="#k5" x="917.28"/><use href="#k1" x="933.22"/><use href="#k9" x="953.37"/><use href="#k11" x="976.81"/><use href="#k4" x="1008.65"/><use href="#k11" x="1031.89"/><use href="#k13" x="1063.73"/><use href="#k11" x="1076.47"/><use href="#k14" x="1107.32"/><use href="#k32" x="1135.76"/><use href="#k36" x="1158.40"/><use href="#k6" x="1175.84"/><use href="#k5" x="1196.58"/><use href="#k5" x="1214.82"/></g><g transform="translate(2038.10,1549.30) scale(0.6145)" fill="none" color="#6ab060" stroke="#6ab060" stroke-width="2.73" stroke-miterlimit="10"><use href="#k7" x="0.00"/><use href="#k11" x="28.08"/><use href="#k1" x="57.16"/><use href="#k5" x="76.84"/><use href="#k6" x="94.02"/><use href="#k11" x="121.29"/><use href="#k7" x="152.67"/><use href="#k4" x="189.35"/><use href="#k0" x="210.83"/><use href="#k1" x="234.61"/><use href="#k0" x="252.19"/></g><g transform="translate(2209.50,1549.30) scale(0.6145)" fill="none" color="#838383" stroke="#838383" stroke-width="2.73" stroke-miterlimit="10"><use href="#k36" x="0.00"/></g><g transform="translate(2637.40,225.90) scale(0.2313)"><g transform="translate(0.00,0)"><path d="M0,-64 H42.9 V-51.4 H28.9 V0 H14.2 V-51.4 H0 Z" fill="#f2a03a"/></g><g transform="translate(50.91,0)"><path d="M0,-64 H15 V-40.1 H40.4 V-64 H55.4 V0 H40.4 V-27.1 H15 V0 H0 Z" fill="#f2a03a"/></g><g transform="translate(113.33,0)"><path d="M0,0 L25.6,-64 H38.8 L64.3,0 H48.9 L44.5,-12 H19.6 L15.1,0 Z M32.1,-43.5 L24.2,-23.8 H40 Z" fill="#f2a03a" fill-rule="evenodd"/></g><g transform="translate(184.64,0)"><path d="M0,-64 H15 V0 H0 Z" fill="#f2a03a"/></g><g transform="translate(212.65,0)"><path d="M0,-64 H15 V-12 H34.9 V0 H0 Z" fill="#f2a03a"/></g><g transform="translate(250.07,0)"><path d="M0,0 L25.6,-64 H38.8 L64.3,0 H48.9 L44.5,-12 H19.6 L15.1,0 Z M32.1,-43.5 L24.2,-23.8 H40 Z" fill="#f2a03a" fill-rule="evenodd"/></g><g transform="translate(321.38,0)"><path d="M0,-64 H15 L47.8,-23.5 V-64 H62.7 V0 H49.2 L15,-40.9 V0 H0 Z" fill="#f2a03a"/></g><g transform="translate(397.09,0)"><path d="M0,-64 H23.3 A31.5,32 0 0 1 23.3,0 H0 Z M14.5,-52.1 H22.6 A16.8,20.05 0 0 1 22.6,-12 H14.5 Z" fill="#f2a03a" fill-rule="evenodd"/></g></g><g transform="translate(63.90,1542.30) scale(0.3457)"><g transform="translate(0.00,0)"><path d="M0,-64.5 H24.7 V0 H9.9 V-51.7 H0 Z" fill="#212121"/></g><g transform="translate(34.08,0)"><path d="M27.9,-64.5 H45.8 V-23.7 H53.6 V-12.7 H45.8 V0 H31.4 V-12.7 H0 V-20.2 Z M31.4,-48.2 V-23.7 H16.1 Z" fill="#212121" fill-rule="evenodd"/></g><g transform="translate(97.07,0)"><path d="M0,-64.5 H24.7 V0 H9.9 V-51.7 H0 Z" fill="#212121"/></g></g><g transform="translate(165.90,1520.70) scale(0.2391)"><g transform="translate(0.00,0)"><path d="M39.7,-52.8 C35.5,-56.5 30,-58.2 23.5,-58.2 C14,-58.2 10.8,-52 10.8,-46.5 C10.8,-40.5 15,-37.5 23.5,-33.3 C33,-28.6 38.6,-25.5 38.6,-19 C38.6,-11.5 32,-6.3 23.5,-6.3 C15,-6.3 8.5,-10 4,-15" fill="none" stroke="#f2a03a" stroke-width="14.6" transform="translate(0,0.3)"/></g><g transform="translate(55.82,0)"><path d="M0.00,-32.10 A34.75,33.6 0 1 1 69.50,-32.10 A34.75,33.6 0 1 1 0.00,-32.10 Z M14.90,-32.20 A19.7,19.8 0 1 0 54.30,-32.20 A19.7,19.8 0 1 0 14.90,-32.20 Z " fill="#f2a03a"/></g><g transform="translate(138.43,0)"><path d="M0,-64 H15.1 V-25.6 A12.2,12.6 0 0 0 39.4,-25.6 V-64 H54.5 V-27 A27.25,28.7 0 0 1 0,-27 Z" fill="#f2a03a"/></g><g transform="translate(209.05,0)"><path d="M0,-64 H23.3 A21,19.9 0 0 1 31,-25.8 L49.9,0 H32.4 L15,-24.9 V0 H0 Z M15,-52.1 H20.5 A9.1,8.5 0 0 1 20.5,-35.1 H15 Z" fill="#f2a03a" fill-rule="evenodd"/></g><g transform="translate(267.06,0)"><path d="M49.8,-62.4 A34.75,33.6 0 1 0 49.8,-1.8 V-19.6 A19.7,19.8 0 1 1 49.8,-44.8 Z" fill="#f2a03a"/></g><g transform="translate(328.98,0)"><path d="M0,-64 H36.6 V-52.1 H15 V-39.3 H35.2 V-27 H15 V-12 H36.6 V0 H0 Z" fill="#f2a03a"/></g><g transform="translate(377.69,0)"><path d="M0.00,-35.60 A8.8,8.8 0 1 1 17.60,-35.60 A8.8,8.8 0 1 1 0.00,-35.60 Z M0.00,-7.70 A8.8,8.8 0 1 1 17.60,-7.70 A8.8,8.8 0 1 1 0.00,-7.70 Z " fill="#f2a03a"/></g></g><g transform="translate(1145.90,1520.70) scale(0.2391)"><g transform="translate(0.00,0)"><path d="M0,-64 H15 L47.8,-23.5 V-64 H62.7 V0 H49.2 L15,-40.9 V0 H0 Z" fill="#f2a03a"/></g><g transform="translate(76.21,0)"><path d="M0.00,-32.10 A34.75,33.6 0 1 1 69.50,-32.10 A34.75,33.6 0 1 1 0.00,-32.10 Z M14.90,-32.20 A19.7,19.8 0 1 0 54.30,-32.20 A19.7,19.8 0 1 0 14.90,-32.20 Z " fill="#f2a03a"/></g><g transform="translate(154.21,0)"><path d="M0,-64 H42.9 V-51.4 H28.9 V0 H14.2 V-51.4 H0 Z" fill="#f2a03a"/></g><g transform="translate(208.62,0)"><path d="M0,-64 H36.6 V-52.1 H15 V-39.3 H35.2 V-27 H15 V-12 H36.6 V0 H0 Z" fill="#f2a03a"/></g><g transform="translate(257.22,0)"><path d="M0.00,-35.60 A8.8,8.8 0 1 1 17.60,-35.60 A8.8,8.8 0 1 1 0.00,-35.60 Z M0.00,-7.70 A8.8,8.8 0 1 1 17.60,-7.70 A8.8,8.8 0 1 1 0.00,-7.70 Z " fill="#f2a03a"/></g></g><g transform="translate(1087.20,1549.30) scale(0.2391)"><g transform="translate(0.00,0)"><path d="M49.8,-62.4 A34.75,33.6 0 1 0 49.8,-1.8 V-19.6 A19.7,19.8 0 1 1 49.8,-44.8 Z" fill="#f2a03a"/></g><g transform="translate(57.57,0)"><path d="M0.00,-32.10 A34.75,33.6 0 1 1 69.50,-32.10 A34.75,33.6 0 1 1 0.00,-32.10 Z M14.90,-32.20 A19.7,19.8 0 1 0 54.30,-32.20 A19.7,19.8 0 1 0 14.90,-32.20 Z " fill="#f2a03a"/></g><g transform="translate(137.83,0)"><path d="M0,0 L10.1,-64 H23.3 L38.7,-26.3 L54.1,-64 H67.1 L77.1,0 H61.8 L57.3,-37.5 L41.5,0 H35.2 L19.6,-37.5 L15.4,0 Z" fill="#f2a03a"/></g><g transform="translate(228.70,0)"><path d="M0,-64 H22 A19,19.2 0 0 1 22,-25.6 H15 V0 H0 Z M15,-52.1 H20.8 A7.4,7.25 0 0 1 20.8,-37.6 H15 Z" fill="#f2a03a" fill-rule="evenodd"/></g><g transform="translate(274.46,0)"><path d="M0,0 L25.6,-64 H38.8 L64.3,0 H48.9 L44.5,-12 H19.6 L15.1,0 Z M32.1,-43.5 L24.2,-23.8 H40 Z" fill="#f2a03a" fill-rule="evenodd"/></g><g transform="translate(348.03,0)"><path d="M0,-64 H23.3 A21,19.9 0 0 1 31,-25.8 L49.9,0 H32.4 L15,-24.9 V0 H0 Z M15,-52.1 H20.5 A9.1,8.5 0 0 1 20.5,-35.1 H15 Z" fill="#f2a03a" fill-rule="evenodd"/></g><g transform="translate(401.69,0)"><path d="M0,0 L25.6,-64 H38.8 L64.3,0 H48.9 L44.5,-12 H19.6 L15.1,0 Z M32.1,-43.5 L24.2,-23.8 H40 Z" fill="#f2a03a" fill-rule="evenodd"/></g><g transform="translate(475.26,0)"><path d="M0,-64 H24 C34,-64 40.9,-57 40.9,-48 C40.9,-41.5 38,-36.5 33,-34 C41,-31.5 46.5,-26 46.5,-18 C46.5,-7 38,0 26,0 H0 Z M14.7,-52.7 H20.5 A6.9,7.25 0 0 1 20.5,-38.2 H14.7 Z M14.7,-27.1 H23.9 A7.6,7.6 0 0 1 23.9,-11.9 H14.7 Z" fill="#f2a03a" fill-rule="evenodd"/></g><g transform="translate(533.53,0)"><path d="M0,-64 H15 V0 H0 Z" fill="#f2a03a"/></g><g transform="translate(563.79,0)"><path d="M0,-64 H15 V-12 H34.9 V0 H0 Z" fill="#f2a03a"/></g><g transform="translate(609.46,0)"><path d="M0,-64 H15 V0 H0 Z" fill="#f2a03a"/></g><g transform="translate(634.72,0)"><path d="M0,-64 H42.9 V-51.4 H28.9 V0 H14.2 V-51.4 H0 Z" fill="#f2a03a"/></g><g transform="translate(681.89,0)"><path d="M0,-64 H17.5 L29.2,-39.5 L40.9,-64 H58.4 L36.7,-24.5 V0 H21.7 V-24.5 Z" fill="#f2a03a"/></g><g transform="translate(747.05,0)"><path d="M0.00,-35.60 A8.8,8.8 0 1 1 17.60,-35.60 A8.8,8.8 0 1 1 0.00,-35.60 Z M0.00,-7.70 A8.8,8.8 0 1 1 17.60,-7.70 A8.8,8.8 0 1 1 0.00,-7.70 Z " fill="#f2a03a"/></g></g><g transform="translate(1408.80,1214.90) scale(0.2031)"><g transform="translate(0.00,0)"><path d="M0,-64 H15 V-38.2 L37,-64 H54.5 L29.3,-34 L56.6,0 H37.7 L15,-26.3 V0 H0 Z" fill="#4b4b4b"/></g><g transform="translate(63.06,0)"><path d="M0,-64 H36.6 V-52.1 H15 V-39.3 H35.2 V-27 H15 V-12 H36.6 V0 H0 Z" fill="#4b4b4b"/></g><g transform="translate(110.63,0)"><path d="M0,-64 H22 A19,19.2 0 0 1 22,-25.6 H15 V0 H0 Z M15,-52.1 H20.8 A7.4,7.25 0 0 1 20.8,-37.6 H15 Z" fill="#4b4b4b" fill-rule="evenodd"/></g><g transform="translate(160.09,0)"><path d="M0,-64 H15 V0 H0 Z" fill="#4b4b4b"/></g><g transform="translate(185.05,0)"><path d="M0.00,-32.10 A34.75,33.6 0 1 1 69.50,-32.10 A34.75,33.6 0 1 1 0.00,-32.10 Z M14.90,-32.20 A19.7,19.8 0 1 0 54.30,-32.20 A19.7,19.8 0 1 0 14.90,-32.20 Z " fill="#4b4b4b"/></g><g transform="translate(260.52,0)"><path d="M39.7,-52.8 C35.5,-56.5 30,-58.2 23.5,-58.2 C14,-58.2 10.8,-52 10.8,-46.5 C10.8,-40.5 15,-37.5 23.5,-33.3 C33,-28.6 38.6,-25.5 38.6,-19 C38.6,-11.5 32,-6.3 23.5,-6.3 C15,-6.3 8.5,-10 4,-15" fill="none" stroke="#4b4b4b" stroke-width="14.6" transform="translate(0,0.3)"/></g></g></svg>
<div class="t" style="left:712.8px;top:595.6px;font-size:41px;font-weight:700;color:#4b4b4b;-webkit-text-stroke:0.9px #4b4b4b;transform-origin:0 0;transform:scaleX(0.765)">statista</div><svg style="left:831px;top:601px" width="30" height="30" viewBox="-0.700 0.000 30 30"><rect width="29" height="29" fill="#4b4b4b"/><path d="M-1,22.4 C9,22.4 11.5,19 14.5,14.5 C17.5,10 20,6.6 30,6.6" fill="none" stroke="#212121" stroke-width="5.2"/></svg><svg style="left:1377px;top:590px" width="126" height="41" viewBox="-0.900 -0.800 126 41"><path d="M30.8,11.1 A14.8,14.8 0 1 0 32.8,24" fill="none" stroke="#4b4b4b" stroke-width="9"/><path d="M19.2,18 H37.3 V38.5 H29.3 V26.1 H19.2 Z" fill="#4b4b4b"/><path d="M37.1,1.1 H47 L53.4,25.5 L60.5,1.1 H71.1 L77.5,25.5 L84.6,1.1 H93.9 L82.1,38.5 H72.2 L65.6,15.5 L58.5,38.5 H48.6 Z" fill="#4b4b4b"/><rect x="97" y="1.1" width="9" height="37.4" fill="#4b4b4b"/><rect x="109.3" y="23.9" width="15" height="14.6" rx="5.5" fill="#4b4b4b"/></svg><svg style="left:725px;top:1175px" width="126" height="41" viewBox="-0.200 -0.800 126 41"><path d="M30.8,11.1 A14.8,14.8 0 1 0 32.8,24" fill="none" stroke="#4b4b4b" stroke-width="9"/><path d="M19.2,18 H37.3 V38.5 H29.3 V26.1 H19.2 Z" fill="#4b4b4b"/><path d="M37.1,1.1 H47 L53.4,25.5 L60.5,1.1 H71.1 L77.5,25.5 L84.6,1.1 H93.9 L82.1,38.5 H72.2 L65.6,15.5 L58.5,38.5 H48.6 Z" fill="#4b4b4b"/><rect x="97" y="1.1" width="9" height="37.4" fill="#4b4b4b"/><rect x="109.3" y="23.9" width="15" height="14.6" rx="5.5" fill="#4b4b4b"/></svg><svg style="left:2030px;top:1175px" width="126" height="41" viewBox="-0.200 -0.800 126 41"><path d="M30.8,11.1 A14.8,14.8 0 1 0 32.8,24" fill="none" stroke="#4b4b4b" stroke-width="9"/><path d="M19.2,18 H37.3 V38.5 H29.3 V26.1 H19.2 Z" fill="#4b4b4b"/><path d="M37.1,1.1 H47 L53.4,25.5 L60.5,1.1 H71.1 L77.5,25.5 L84.6,1.1 H93.9 L82.1,38.5 H72.2 L65.6,15.5 L58.5,38.5 H48.6 Z" fill="#4b4b4b"/><rect x="97" y="1.1" width="9" height="37.4" fill="#4b4b4b"/><rect x="109.3" y="23.9" width="15" height="14.6" rx="5.5" fill="#4b4b4b"/></svg><svg style="left:2021px;top:542px" width="121" height="85" viewBox="-60.000 -60.400 121 85"><g fill="#4b4b4b"><path d="M-24,-24 H0 V-12 H-12 V12 H0 V24 H-24 Z"/><path d="M0,12 A12,12 0 0 0 12,0 H24 A24,24 0 0 1 0,24 Z"/><path d="M0,0 V-12 A12,12 0 0 1 12,0 Z"/><path d="M0,-36 A36,36 0 0 1 36,0 H24 A24,24 0 0 0 0,-24 Z"/><path d="M0,-60 A60,60 0 0 1 60,0 H48 A48,48 0 0 0 0,-48 Z"/></g></svg><svg style="left:1408px;top:1130px" width="64" height="63" viewBox="-0.800 -0.900 64 63"><rect width="62.4" height="62" fill="#4b4b4b"/><path d="M24.8,0 H36.4 L42.8,6.5 L18.8,31.2 L42.8,55.4 L36.8,62 H25.1 L0,37 V24.6 Z" fill="#212121"/><path d="M44,31.2 L55.8,19.4 L62.4,25.5 V37 L55.8,43 Z" fill="#212121"/></svg><div class="t" style="left:1408.3px;top:1200.2px;font-size:18.2px;font-weight:700;color:transparent;transform-origin:0 0;transform:scaleX(0.915)">KEPIOS</div><div class="abs" style="left:2384.5px;top:1538px;width:10.4px;height:10.4px;border-radius:50%;background:#e8e8e8"></div><svg style="left:2474px;top:1509px" width="98" height="43" viewBox="-49.200 -20.900 98 43"><g fill="#e8e8e8"><path d="M-48.5,0 L-30.6,-20.7 H-15.4 Q-30.9,-12.6 -36.8,0 Q-30.9,12.6 -15.4,20.7 H-30.6 Z"/><path d="M48.5,0 L30.6,-20.7 H15.4 Q30.9,-12.6 36.8,0 Q30.9,12.6 15.4,20.7 H30.6 Z"/></g><circle r="14.2" fill="none" stroke="#e8e8e8" stroke-width="12"/></svg>
<div class="abs" style="left:469px;top:1526.2px;width:87.5px;height:1.3px;background:repeating-linear-gradient(90deg,#6ab060 0 1.6px,transparent 1.6px 3.3px)"></div>
<div class="abs" style="left:981.5px;top:1526.2px;width:46.5px;height:1.3px;background:repeating-linear-gradient(90deg,#6ab060 0 1.6px,transparent 1.6px 3.3px)"></div>
<div class="abs" style="left:2037px;top:1554.7px;width:171px;height:1.3px;background:repeating-linear-gradient(90deg,#6ab060 0 1.6px,transparent 1.6px 3.3px)"></div>
<div class="t" id="oct" style="left:-1339.80px;width:3000px;text-align:center;top:61.34px;font-size:70px;font-weight:700;color:transparent;transform:scaleX(0.8883)">OCT</div>
<div class="t" id="yr" style="left:-1340.30px;width:3000px;text-align:center;top:130.75px;font-size:70px;font-weight:700;color:transparent;transform:scaleX(1.0667)">2025</div>
<div class="t" id="title0" style="left:-1005.50px;width:3000px;text-align:center;top:59.04px;font-size:89.5px;font-weight:700;color:transparent;transform:scaleX(0.9238)">DIGITAL</div>
<div class="t" id="title1" style="left:-549.70px;width:3000px;text-align:center;top:59.04px;font-size:89.5px;font-weight:700;color:transparent;transform:scaleX(0.9595)">MARKETING:</div>
<div class="t" id="title2" style="left:-43.70px;width:3000px;text-align:center;top:59.04px;font-size:89.5px;font-weight:700;color:transparent;transform:scaleX(0.8786)">ATTITUDES</div>
<div class="t" id="title3" style="left:293.60px;width:3000px;text-align:center;top:59.04px;font-size:89.5px;font-weight:700;color:transparent;transform:scaleX(1.0345)">AND</div>
<div class="t" id="title4" style="left:692.50px;width:3000px;text-align:center;top:59.04px;font-size:89.5px;font-weight:700;color:transparent;transform:scaleX(0.9389)">BEHAVIOURS</div>
<div class="t" id="sub0" style="left:-628.05px;width:3000px;text-align:center;top:165.45px;font-size:31.6px;font-weight:400;color:transparent;transform:scaleX(0.9258)">ATTITUDES AND BEHAVIOURS RELATING TO DIGITAL MARKETING AMONGST</div>
<div class="t" id="sub1" style="left:113.60px;width:3000px;text-align:center;top:165.45px;font-size:31.6px;font-weight:400;color:transparent;transform:scaleX(0.8939)">INTERNET USERS AGED 16+</div>
<div class="t" id="sub2" style="left:308.20px;width:3000px;text-align:center;top:165.45px;font-size:31.6px;font-weight:400;color:transparent;transform:scaleX(0.8200)">,</div>
<div class="t" id="sub3" style="left:635.50px;width:3000px;text-align:center;top:165.45px;font-size:31.6px;font-weight:400;color:transparent;transform:scaleX(0.9095)">INCLUDING AVERAGE AD SPEND PER CAPITA</div>
<div class="t" id="thai" style="left:1190.30px;width:3000px;text-align:center;top:209.27px;font-size:21.3px;font-weight:700;color:transparent;transform:scaleX(0.9537)">THAILAND</div>
<div class="t" id="l00" style="left:-1038.15px;width:3000px;text-align:center;top:316.43px;font-size:36px;font-weight:400;color:transparent;transform:scaleX(0.8495)">CONTEXT: AVERAGE DIGITAL AD SPEND</div>
<div class="t" id="l01" style="left:-1039.40px;width:3000px;text-align:center;top:356.83px;font-size:36px;font-weight:400;color:transparent;transform:scaleX(0.8169)">PER INTERNET USER (USD; 2025)</div>
<div class="t" id="n0" style="left:-1035.50px;width:3000px;text-align:center;top:676.07px;font-size:91px;font-weight:700;color:transparent;transform:scaleX(1.0696)">$32.99</div>
<div class="t" id="l10" style="left:-386.70px;width:3000px;text-align:center;top:316.43px;font-size:36px;font-weight:400;color:transparent;transform:scaleX(0.7710)">FEEL REPRESENTED IN THE</div>
<div class="t" id="l11" style="left:-386.15px;width:3000px;text-align:center;top:356.83px;font-size:36px;font-weight:400;color:transparent;transform:scaleX(0.8376)">ADS THEY SEE AND HEAR</div>
<div class="t" id="n1" style="left:-387.00px;width:3000px;text-align:center;top:676.07px;font-size:91px;font-weight:700;color:transparent;transform:scaleX(0.9377)">21.1%</div>
<div class="t" id="l20" style="left:265.65px;width:3000px;text-align:center;top:316.43px;font-size:36px;font-weight:400;color:transparent;transform:scaleX(0.8483)">RESEARCH BRANDS ONLINE</div>
<div class="t" id="l21" style="left:266.15px;width:3000px;text-align:center;top:356.83px;font-size:36px;font-weight:400;color:transparent;transform:scaleX(0.8587)">BEFORE MAKING A PURCHASE</div>
<div class="t" id="n2" style="left:267.25px;width:3000px;text-align:center;top:676.07px;font-size:91px;font-weight:700;color:transparent;transform:scaleX(1.0397)">50.5%</div>
<div class="t" id="l30" style="left:917.75px;width:3000px;text-align:center;top:316.43px;font-size:36px;font-weight:400;color:transparent;transform:scaleX(0.8562)">VISIT SOCIAL MEDIA TO LEARN ABOUT</div>
<div class="t" id="l31" style="left:918.00px;width:3000px;text-align:center;top:356.83px;font-size:36px;font-weight:400;color:transparent;transform:scaleX(0.8718)">BRANDS AND SEE BRANDS’ CONTENT</div>
<div class="t" id="n3" style="left:919.25px;width:3000px;text-align:center;top:676.07px;font-size:91px;font-weight:700;color:transparent;transform:scaleX(0.9746)">57.6%</div>
<div class="t" id="l40" style="left:-1038.55px;width:3000px;text-align:center;top:901.43px;font-size:36px;font-weight:400;color:transparent;transform:scaleX(0.8318)">VISITED A BRAND’S WEBSITE</div>
<div class="t" id="l41" style="left:-1039.25px;width:3000px;text-align:center;top:941.83px;font-size:36px;font-weight:400;color:transparent;transform:scaleX(0.8747)">IN THE PAST MONTH</div>
<div class="t" id="n4" style="left:-1038.75px;width:3000px;text-align:center;top:1261.07px;font-size:91px;font-weight:700;color:transparent;transform:scaleX(1.0610)">44.6%</div>
<div class="t" id="l50" style="left:-386.50px;width:3000px;text-align:center;top:901.43px;font-size:36px;font-weight:400;color:transparent;transform:scaleX(0.8647)">CLICKED OR TAPPED ON A BANNER AD</div>
<div class="t" id="l51" style="left:-386.75px;width:3000px;text-align:center;top:941.83px;font-size:36px;font-weight:400;color:transparent;transform:scaleX(0.8752)">ON A WEBSITE IN THE PAST MONTH</div>
<div class="t" id="n5" style="left:-383.00px;width:3000px;text-align:center;top:1261.07px;font-size:91px;font-weight:700;color:transparent;transform:scaleX(0.9840)">13.9%</div>
<div class="t" id="l60" style="left:265.85px;width:3000px;text-align:center;top:901.43px;font-size:36px;font-weight:400;color:transparent;transform:scaleX(0.8536)">CLICKED OR TAPPED ON A SPONSORED</div>
<div class="t" id="l61" style="left:266.65px;width:3000px;text-align:center;top:941.83px;font-size:36px;font-weight:400;color:transparent;transform:scaleX(0.8691)">SOCIAL MEDIA POST IN THE PAST MONTH</div>
<div class="t" id="n6" style="left:268.75px;width:3000px;text-align:center;top:1261.07px;font-size:91px;font-weight:700;color:transparent;transform:scaleX(0.9896)">12.9%</div>
<div class="t" id="l70" style="left:917.00px;width:3000px;text-align:center;top:901.43px;font-size:36px;font-weight:400;color:transparent;transform:scaleX(0.8815)">DOWNLOADED OR USED A BRANDED</div>
<div class="t" id="l71" style="left:918.55px;width:3000px;text-align:center;top:941.83px;font-size:36px;font-weight:400;color:transparent;transform:scaleX(0.8589)">MOBILE APP IN THE PAST MONTH</div>
<div class="t" id="n7" style="left:921.25px;width:3000px;text-align:center;top:1261.07px;font-size:91px;font-weight:700;color:transparent;transform:scaleX(0.9919)">18.6%</div>
<div class="t" id="was" style="left:831.25px;width:3000px;text-align:center;top:1466.64px;font-size:49.8px;font-weight:700;color:#e8e8e8;-webkit-text-stroke:1.0px #e8e8e8;transform:scaleX(1.0718)">we</div>
<div class="t" id="wasa" style="left:837.00px;width:3000px;text-align:center;top:1502.74px;font-size:49.8px;font-weight:700;color:#e8e8e8;-webkit-text-stroke:1.0px #e8e8e8;transform:scaleX(1.1054)">are</div>
<div class="t" id="wass" style="left:868.00px;width:3000px;text-align:center;top:1536.94px;font-size:49.8px;font-weight:700;color:#e8e8e8;-webkit-text-stroke:1.0px #e8e8e8;transform:scaleX(1.0228)">social</div>
<div class="t" id="melt" style="left:1202.00px;width:3000px;text-align:center;top:1501.77px;font-size:56.5px;font-weight:400;color:#e8e8e8;-webkit-text-stroke:0.9px #e8e8e8;transform:scaleX(1.0249)">Meltwater</div>
<div class="t" id="pg" style="left:-1415.10px;width:3000px;text-align:center;top:1516.96px;font-size:31px;font-weight:700;color:transparent;transform:scaleX(0.8245)">141</div>
<div class="t" id="f00" style="left:-1286.20px;width:3000px;text-align:center;top:1503.22px;font-size:22.3px;font-weight:700;color:transparent;transform:scaleX(0.9337)">SOURCE:</div>
<div class="t" id="f01" style="left:-1135.20px;width:3000px;text-align:center;top:1503.22px;font-size:22.3px;font-weight:400;color:transparent;transform:scaleX(0.9048)">AD SPEND DATA VIA</div>
<div class="t" id="f02" style="left:-987.15px;width:3000px;text-align:center;top:1503.22px;font-size:22.3px;font-weight:400;color:transparent;transform:scaleX(0.8438)">STATISTA</div>
<div class="t" id="f03" style="left:-731.65px;width:3000px;text-align:center;top:1503.22px;font-size:22.3px;font-weight:400;color:transparent;transform:scaleX(0.8785)">MARKET INSIGHTS; ALL OTHER VALUES VIA</div>
<div class="t" id="f04" style="left:-495.25px;width:3000px;text-align:center;top:1503.22px;font-size:22.3px;font-weight:400;color:transparent;transform:scaleX(1.0458)">GWI</div>
<div class="t" id="f05" style="left:-413.15px;width:3000px;text-align:center;top:1503.22px;font-size:22.3px;font-weight:400;color:transparent;transform:scaleX(1.0055)">(Q2 2025).</div>
<div class="t" id="f06" style="left:-320.50px;width:3000px;text-align:center;top:1503.22px;font-size:22.3px;font-weight:700;color:transparent;transform:scaleX(0.9948)">NOTE:</div>
<div class="t" id="f07" style="left:221.70px;width:3000px;text-align:center;top:1503.22px;font-size:22.3px;font-weight:400;color:transparent;transform:scaleX(0.8713)">VALUES FOR AVERAGE DIGITAL AD SPEND ARE IN UNITED STATES DOLLARS, AND REPRESENT THE TOTAL</div>
<div class="t" id="f10" style="left:-878.70px;width:3000px;text-align:center;top:1531.82px;font-size:22.3px;font-weight:400;color:transparent;transform:scaleX(0.9045)">SPEND ON DIGITAL ADS IN 2025 COMPARED WITH THE TOTAL NUMBER OF INTERNET USERS.</div>
<div class="t" id="f11" style="left:-320.80px;width:3000px;text-align:center;top:1531.82px;font-size:22.3px;font-weight:700;color:transparent;transform:scaleX(0.9744)">COMPARABILITY:</div>
<div class="t" id="f12" style="left:153.90px;width:3000px;text-align:center;top:1531.82px;font-size:22.3px;font-weight:400;color:transparent;transform:scaleX(0.9335)">CHANGES IN AUDIENCE COMPOSITION AND SURVEY METHODOLOGY. SEE</div>
<div class="t" id="f13" style="left:621.60px;width:3000px;text-align:center;top:1531.82px;font-size:22.3px;font-weight:400;color:transparent;transform:scaleX(0.9490)">NOTES ON DATA</div>
<div class="t" id="f14" style="left:710.90px;width:3000px;text-align:center;top:1531.82px;font-size:22.3px;font-weight:400;color:transparent;transform:scaleX(0.8200)">.</div>
</div>
</body></html>
